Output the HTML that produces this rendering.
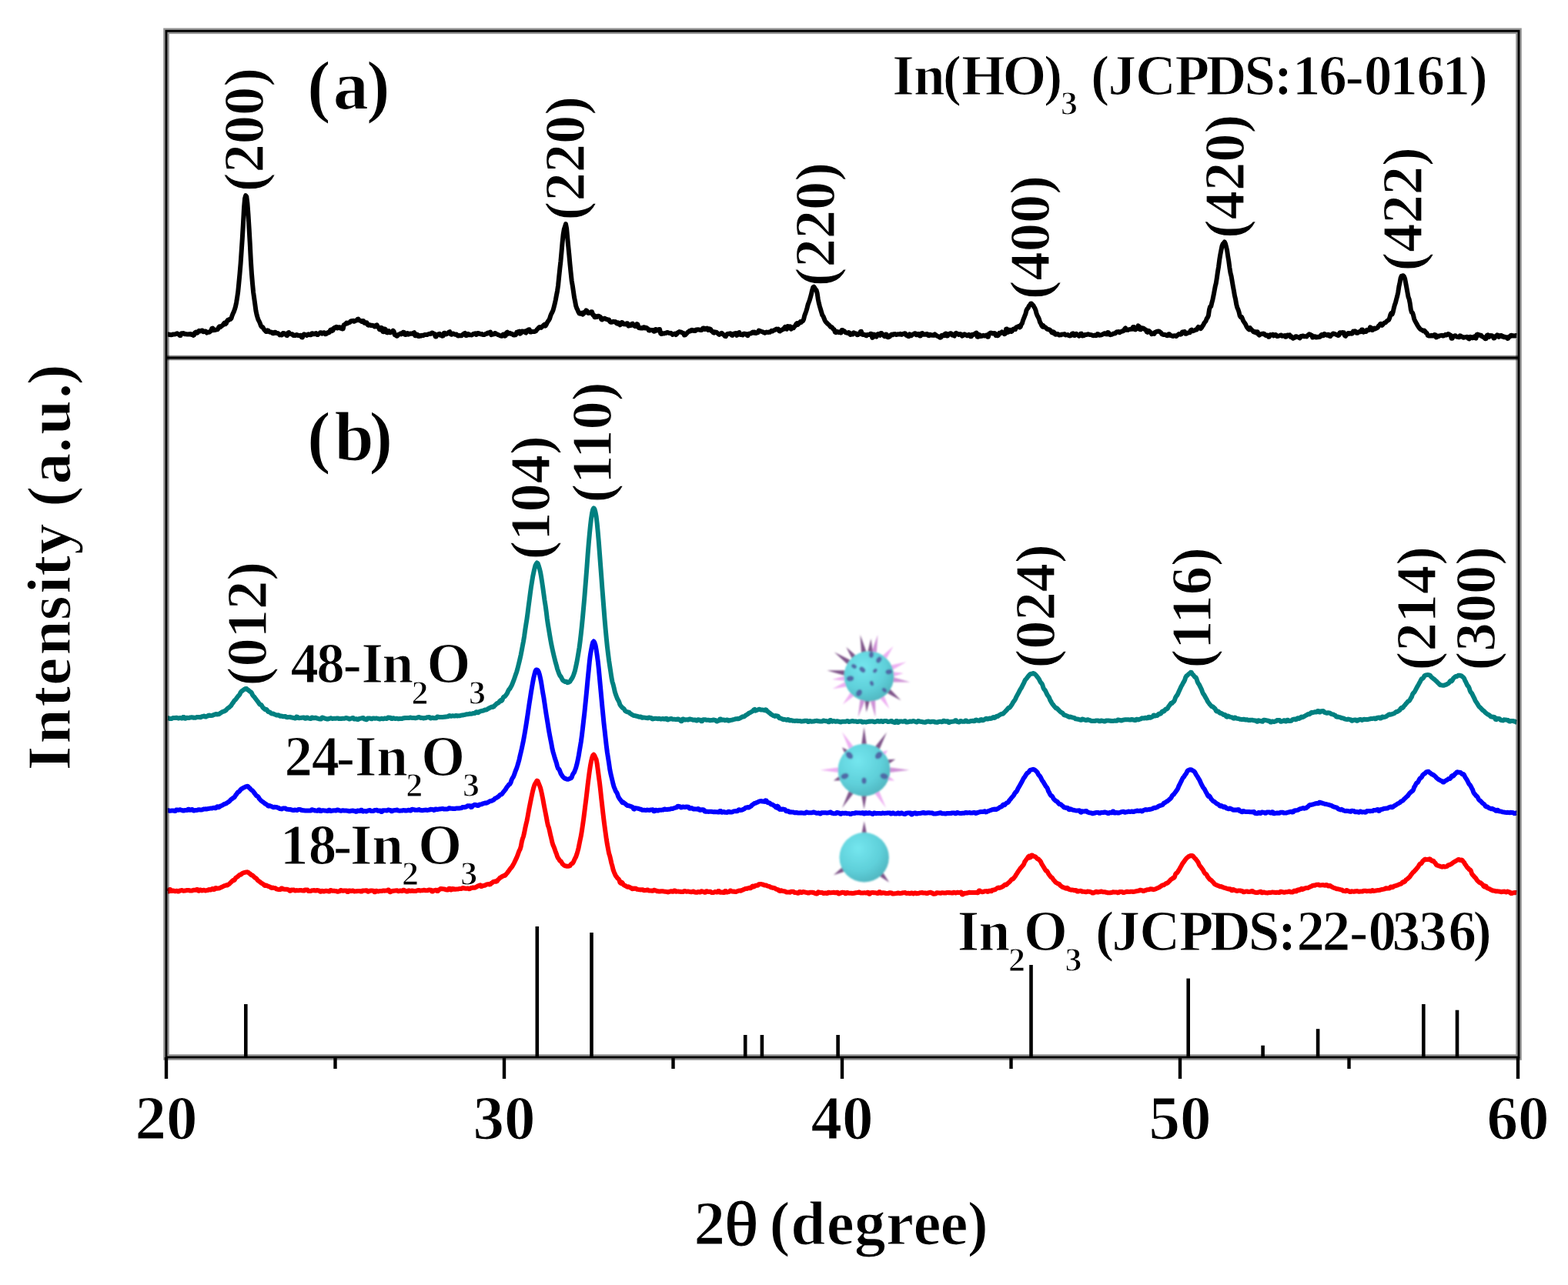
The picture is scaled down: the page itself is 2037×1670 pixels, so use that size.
<!DOCTYPE html><html><head><meta charset="utf-8"><title>XRD patterns</title><style>html,body{margin:0;padding:0;background:#fff;overflow:hidden}svg{display:block}text{font-family:"Liberation Serif","Times New Roman",serif;font-weight:bold;fill:#000;stroke:#fff;stroke-width:1.2px}</style></head><body><svg width="2037" height="1670" viewBox="0 0 2037 1670"><defs><filter id="bl" x="-20%" y="-20%" width="140%" height="140%"><feGaussianBlur stdDeviation="0.9"/></filter><radialGradient id="sg" cx="0.38" cy="0.32" r="0.75"><stop offset="0" stop-color="#74e6ee"/><stop offset="0.6" stop-color="#5fd0da"/><stop offset="1" stop-color="#4eb3bd"/></radialGradient></defs><rect width="2037" height="1670" fill="#fff"/><path d="M218 434.4L219.1 434.4L220.2 435L221.3 435L222.4 435.2L223.5 435.1L224.6 434.5L225.7 434.5L226.8 434.6L227.9 434.4L229 433.6L230.1 433.3L231.2 434.1L232.3 434.5L233.4 436L234.5 436.1L235.6 433.3L236.7 433.3L237.8 433.1L238.9 433.2L240 434.2L241.1 434L242.2 434.3L243.3 434.6L244.4 434.3L245.5 434.6L246.6 434.2L247.7 433.9L248.8 435L249.9 434.6L251 435.9L252.1 435.5L253.2 432.5L254.3 431.7L255.4 432.8L256.5 432.5L257.6 430.8L258.7 429.8L259.8 430.4L260.9 430.3L262 429.5L263.1 429.6L264.2 431.2L265.3 431.1L266.4 430.4L267.5 430.7L268.6 432.5L269.7 431.9L270.8 431.8L271.9 431.8L273 430.8L274.1 430L275.2 426.9L276.3 426.6L277.4 429.2L278.5 428.4L279.6 428.9L280.7 428.6L281.8 428.4L282.9 428.1L284 425.6L285.1 424.4L286.2 425.2L287.3 424.3L288.4 423.4L289.5 422.6L290.6 420.8L291.7 419.6L292.8 421.2L293.9 420.3L295 417.2L296.1 415.8L297.2 416L298.3 414.8L299.4 414.8L300.5 413.7L301.6 410.1L302.7 407.4L303.8 405.2L304.9 402.1L306 398.4L307.1 393.1L308.2 386.3L309.3 378.5L310.4 367.1L311.5 355.5L312.6 342.5L313.7 326.4L314.8 310L315.9 291.1L317 270.3L318.1 257.8L319.2 254.1L320.3 255.7L321.4 264.1L322.5 278.9L323.6 296.8L324.7 315.8L325.8 337.6L326.9 355L328 368.3L329.1 379.8L330.2 387.5L331.3 395.3L332.4 403.6L333.5 408.9L334.6 412.7L335.7 415.9L336.8 417.9L337.9 420.4L339 423.5L340.1 425L341.2 425.1L342.3 426.9L343.4 428.6L344.5 429.7L345.6 430.9L346.7 430.9L347.8 429.4L348.9 430L350 431.4L351.1 431.8L352.2 431.5L353.3 431.9L354.4 433.3L355.5 433.2L356.6 432L357.7 431.7L358.8 433L359.9 432.7L361 433.1L362.1 433.8L363.2 435.3L364.3 434.7L365.4 435.4L366.5 435.4L367.6 432.9L368.7 433.1L369.8 433.6L370.9 433.9L372 435.9L373.1 436.1L374.2 432.6L375.3 432.1L376.4 434L377.5 434L378.6 434.2L379.7 434.3L380.8 435.8L381.9 436.1L383 435.6L384.1 436L385.2 435.1L386.3 435.2L387.4 436L388.5 435.9L389.6 436L390.7 435.8L391.8 438.3L392.9 438.4L394 435.3L395.1 434.3L396.2 434.9L397.3 434.9L398.4 436L399.5 435.4L400.6 434.4L401.7 435.1L402.8 435.3L403.9 435.3L405 433.2L406.1 433.2L407.2 434.2L408.3 434.3L409.4 433.4L410.5 433.1L411.6 434.8L412.7 435.1L413.8 433.9L414.9 433.6L416 432.3L417.1 432.3L418.2 433.6L419.3 433.2L420.4 432.3L421.5 432.3L422.6 434.2L423.7 434.1L424.8 432.7L425.9 432L427 432.4L428.1 431.7L429.2 429L430.3 428.4L431.4 430.1L432.5 429.3L433.6 426.6L434.7 425.9L435.8 425.2L436.9 424.8L438 426.6L439.1 426.4L440.2 425.3L441.3 425.2L442.4 426.5L443.5 425.7L444.6 427.5L445.7 427.3L446.8 422.3L447.9 421.8L449 420.9L450.1 419.7L451.2 420.4L452.3 419.4L453.4 419.4L454.5 418.8L455.6 417.4L456.7 417.1L457.8 417.3L458.9 416.7L460 417.8L461.1 417.2L462.2 416.5L463.3 416.4L464.4 414.9L465.5 414.5L466.6 416.4L467.7 416.6L468.8 417.2L469.9 417.9L471 417L472.1 417L473.2 419.7L474.3 419.9L475.4 419.3L476.5 419.3L477.6 422.3L478.7 422.7L479.8 422.2L480.9 422.2L482 423L483.1 422.9L484.2 422.8L485.3 423.4L486.4 424.5L487.5 424.5L488.6 422.6L489.7 422.3L490.8 424.5L491.9 425.8L493 428.2L494.1 428.5L495.2 425.8L496.3 426.2L497.4 431L498.5 431.2L499.6 427.5L500.7 427.8L501.8 431.8L502.9 432.3L504 430.4L505.1 430L506.2 432.3L507.3 432.2L508.4 431.6L509.5 431.4L510.6 429.7L511.7 430.8L512.8 435.2L513.9 435.3L515 436.5L516.1 436.8L517.2 435L518.3 434.7L519.4 434L520.5 433.3L521.6 434.3L522.7 433.4L523.8 431.8L524.9 432L526 434.8L527.1 435L528.2 433.5L529.3 433L530.4 434.7L531.5 434.4L532.6 433.6L533.7 433.5L534.8 433.7L535.9 433.7L537 432.7L538.1 432.2L539.2 436.2L540.3 436.3L541.4 434.6L542.5 435.1L543.6 437.1L544.7 437L545.8 436.1L546.9 436.6L548 435.8L549.1 436L550.2 435.9L551.3 435.1L552.4 435.1L553.5 434.9L554.6 435.1L555.7 434.7L556.8 434.1L557.9 433.8L559 434L560.1 433.8L561.2 432.6L562.3 432.7L563.4 433.6L564.5 433.9L565.6 437.4L566.7 437.4L567.8 434.7L568.9 434.7L570 434.1L571.1 433.7L572.2 435.7L573.3 435.6L574.4 436.7L575.5 436.6L576.6 432.9L577.7 432.7L578.8 434.4L579.9 434.3L581 433.5L582.1 433.1L583.2 431.6L584.3 431.2L585.4 434.3L586.5 434.8L587.6 433.7L588.7 433.5L589.8 434.1L590.9 434.8L592 434.4L593.1 434.4L594.2 435.9L595.3 436.4L596.4 435.9L597.5 436.2L598.6 436.3L599.7 436.3L600.8 435L601.9 434.3L603 433.5L604.1 432.9L605.2 436L606.3 435.9L607.4 434.1L608.5 434L609.6 435.3L610.7 435.2L611.8 435.2L612.9 435.5L614 434.8L615.1 433.9L616.2 433.6L617.3 433.3L618.4 434.9L619.5 434.8L620.6 433L621.7 433.1L622.8 433.5L623.9 434.1L625 434.4L626.1 434.1L627.2 435L628.3 435L629.4 434.9L630.5 434.2L631.6 433.6L632.7 433.8L633.8 432.6L634.9 432.9L636 432.1L637.1 431.6L638.2 435.1L639.3 434.7L640.4 434.6L641.5 434.4L642.6 433.1L643.7 433.1L644.8 434.1L645.9 434.4L647 435L648.1 435.3L649.2 435.9L650.3 436.4L651.4 436.8L652.5 436.5L653.6 434.5L654.7 434.8L655.8 436.6L656.9 436.2L658 432.3L659.1 431.7L660.2 433.8L661.3 433.6L662.4 432.8L663.5 433.4L664.6 434.1L665.7 434.1L666.8 435.4L667.9 435.6L669 435.4L670.1 435.2L671.2 431.8L672.3 431.9L673.4 431.1L674.5 430.7L675.6 433.7L676.7 433.1L677.8 430.4L678.9 430.5L680 431.2L681.1 430.6L682.2 432.1L683.3 432.6L684.4 429.6L685.5 429.6L686.6 428.4L687.7 428.2L688.8 431.6L689.9 431.5L691 431L692.1 431.1L693.2 431.1L694.3 431.1L695.4 430.6L696.5 430L697.6 428.2L698.7 427.3L699.8 426L700.9 425L702 425.7L703.1 425.9L704.2 424.5L705.3 423.7L706.4 422.4L707.5 421.6L708.6 423.5L709.7 421.9L710.8 419.3L711.9 417.6L713 416.2L714.1 414.1L715.2 410.3L716.3 407.7L717.4 405.7L718.5 403.3L719.6 399.2L720.7 394.8L721.8 389.9L722.9 383.9L724 378.3L725.1 370.9L726.2 359.8L727.3 349.2L728.4 339.6L729.5 327.5L730.6 315L731.7 304.4L732.8 298L733.9 294.7L735 291.2L736.1 296.9L737.2 308.7L738.3 320.2L739.4 331.4L740.5 343.7L741.6 354.6L742.7 364.9L743.8 371.2L744.9 378.6L746 386.3L747.1 391.6L748.2 397.6L749.3 400.8L750.4 402.8L751.5 405.5L752.6 407.4L753.7 407.8L754.8 407.3L755.9 406.6L757 408.6L758.1 407.7L759.2 405.7L760.3 405.4L761.4 403.4L762.5 404.1L763.6 406.8L764.7 406.9L765.8 406.3L766.9 406.6L768 405.2L769.1 405.2L770.2 409.3L771.3 409.3L772.4 412.2L773.5 412.3L774.6 411.1L775.7 411.9L776.8 410.7L777.9 410.8L779 411.5L780.1 412L781.2 415L782.3 415.5L783.4 414.4L784.5 414L785.6 413.7L786.7 414.5L787.8 414.8L788.9 415.3L790 415.6L791.1 415.4L792.2 417.8L793.3 418.8L794.4 418.7L795.5 418.5L796.6 417.8L797.7 418.3L798.8 418.1L799.9 418.2L801 420.3L802.1 420.7L803.2 419.3L804.3 420.4L805.4 422.3L806.5 421.7L807.6 418.9L808.7 419.1L809.8 420.7L810.9 421.4L812 421.2L813.1 421.5L814.2 420.2L815.3 420.2L816.4 423.6L817.5 423.4L818.6 423.1L819.7 423L820.8 420.9L821.9 420.6L823 422.7L824.1 423.4L825.2 424.1L826.3 424.1L827.4 421L828.5 421.8L829.6 426.1L830.7 426.2L831.8 426.4L832.9 426L834 426.5L835.1 426.5L836.2 425.2L837.3 425.5L838.4 426.5L839.5 425.9L840.6 426.5L841.7 427.2L842.8 429.3L843.9 429.6L845 428.8L846.1 428.9L847.2 428.9L848.3 429L849.4 430.8L850.5 430.6L851.6 427.9L852.7 428.1L853.8 429.5L854.9 429.1L856 428.1L857.1 428.1L858.2 433.4L859.3 434L860.4 433.4L861.5 433.2L862.6 433.6L863.7 433.1L864.8 433.1L865.9 432.2L867 432.1L868.1 432.2L869.2 432.9L870.3 433.1L871.4 432.8L872.5 433.6L873.6 434.9L874.7 434.2L875.8 434L876.9 433.6L878 435.1L879.1 434.2L880.2 432.6L881.3 431.9L882.4 431.1L883.5 431.4L884.6 431.4L885.7 432.3L886.8 432.6L887.9 432.9L889 435.6L890.1 435.4L891.2 434.2L892.3 433.1L893.4 431.8L894.5 431.2L895.6 430.1L896.7 430.5L897.8 429.2L898.9 428.7L900 429.7L901.1 429.2L902.2 430.1L903.3 430.1L904.4 428.5L905.5 428.6L906.6 428.3L907.7 428.5L908.8 428.6L909.9 429L911 429.1L912.1 428.4L913.2 426.4L914.3 426.5L915.4 428L916.5 427.8L917.6 426.8L918.7 426.6L919.8 429L920.9 428.8L922 427.3L923.1 427.9L924.2 430L925.3 430.3L926.4 432L927.5 432.6L928.6 431.4L929.7 432L930.8 431.7L931.9 432.9L933 433.9L934.1 434.9L935.2 434.5L936.3 433.4L937.4 432.8L938.5 433.6L939.6 434.8L940.7 435.4L941.8 436.9L942.9 437.2L944 434.8L945.1 433.9L946.2 433.7L947.3 434L948.4 433.3L949.5 433.4L950.6 435.7L951.7 435.9L952.8 434.2L953.9 433.4L955 433.2L956.1 433.1L957.2 435.8L958.3 435.2L959.4 432.6L960.5 432.1L961.6 435L962.7 435.1L963.8 435.1L964.9 435.5L966 433.8L967.1 433.6L968.2 433.9L969.3 434L970.4 435.7L971.5 436.1L972.6 433.8L973.7 433.7L974.8 433.3L975.9 433.4L977 432L978.1 431.6L979.2 432.6L980.3 431.6L981.4 432.9L982.5 433L983.6 432.1L984.7 432.2L985.8 429.5L986.9 430.1L988 430.4L989.1 430.8L990.2 431.1L991.3 431.5L992.4 432.3L993.5 432.7L994.6 432.2L995.7 431.6L996.8 431.8L997.9 431.9L999 431.5L1000.1 431.7L1001.2 430.9L1002.3 429.8L1003.4 430.4L1004.5 429.7L1005.6 429.2L1006.7 428.7L1007.8 428L1008.9 427.5L1010 428.4L1011.1 427.7L1012.2 430.1L1013.3 430.5L1014.4 429.2L1015.5 429L1016.6 428.1L1017.7 428L1018.8 426.2L1019.9 424.9L1021 427.2L1022.1 427.7L1023.2 424.1L1024.3 424.2L1025.4 424.6L1026.5 424.3L1027.6 427.7L1028.7 426.9L1029.8 425.5L1030.9 426.1L1032 424.3L1033.1 423.6L1034.2 421.2L1035.3 420.1L1036.4 421.9L1037.5 420.8L1038.6 419.4L1039.7 418.1L1040.8 418.8L1041.9 417.4L1043 417.2L1044.1 414.9L1045.2 410.2L1046.3 407.4L1047.4 404.1L1048.5 400.3L1049.6 395.9L1050.7 393L1051.8 390L1052.9 386.2L1054 381.9L1055.1 377.3L1056.2 373.5L1057.3 372.7L1058.4 374.3L1059.5 376.1L1060.6 377.3L1061.7 381.4L1062.8 389L1063.9 394.3L1065 398.5L1066.1 402.2L1067.2 405.9L1068.3 409.6L1069.4 410.9L1070.5 413.6L1071.6 416.4L1072.7 418.4L1073.8 419.2L1074.9 420.5L1076 421.5L1077.1 422.4L1078.2 423.7L1079.3 425.1L1080.4 425L1081.5 426.2L1082.6 427.7L1083.7 428.2L1084.8 431.6L1085.9 432.2L1087 431.1L1088.1 431.1L1089.2 432L1090.3 431.6L1091.4 432.2L1092.5 432.5L1093.6 429L1094.7 429L1095.8 430.2L1096.9 430.2L1098 431.7L1099.1 432.4L1100.2 432.6L1101.3 433L1102.4 432L1103.5 432.5L1104.6 434.9L1105.7 434.8L1106.8 433.7L1107.9 434.4L1109 432.4L1110.1 432.8L1111.2 433.4L1112.3 433.4L1113.4 435.2L1114.5 435.1L1115.6 434.2L1116.7 434L1117.8 430.9L1118.9 430.7L1120 434.6L1121.1 435L1122.2 434.4L1123.3 434.9L1124.4 435.9L1125.5 436.3L1126.6 434.9L1127.7 434.9L1128.8 435.1L1129.9 435.1L1131 433.7L1132.1 434L1133.2 438.9L1134.3 438.2L1135.4 434.6L1136.5 435.2L1137.6 437.3L1138.7 437.6L1139.8 434.5L1140.9 434L1142 435.1L1143.1 435.8L1144.2 433.1L1145.3 433.1L1146.4 434.5L1147.5 434.8L1148.6 437L1149.7 437.2L1150.8 434.4L1151.9 434.6L1153 438L1154.1 438.3L1155.2 437.6L1156.3 437L1157.4 435.2L1158.5 434.6L1159.6 435.2L1160.7 434.2L1161.8 434.4L1162.9 434.1L1164 434.9L1165.1 434.9L1166.2 434.3L1167.3 434.5L1168.4 434.4L1169.5 433.8L1170.6 434.7L1171.7 434.9L1172.8 433.9L1173.9 433.9L1175 433.2L1176.1 433.5L1177.2 435.7L1178.3 435.3L1179.4 436.9L1180.5 437.2L1181.6 434.3L1182.7 434.7L1183.8 436.2L1184.9 435.4L1186 434.5L1187.1 434L1188.2 433.3L1189.3 433.2L1190.4 435.3L1191.5 435.2L1192.6 434.1L1193.7 434L1194.8 436.5L1195.9 436.5L1197 433.4L1198.1 433L1199.2 434.8L1200.3 434.7L1201.4 434.5L1202.5 434.8L1203.6 434L1204.7 434.1L1205.8 435.9L1206.9 436.3L1208 434.8L1209.1 435L1210.2 435.7L1211.3 435.7L1212.4 435.2L1213.5 435.8L1214.6 434.5L1215.7 435.4L1216.8 436.3L1217.9 436.8L1219 437.5L1220.1 437.4L1221.2 438.7L1222.3 438.6L1223.4 436L1224.5 435.7L1225.6 436.3L1226.7 436.2L1227.8 433.8L1228.9 433.5L1230 436.5L1231.1 436.6L1232.2 434.1L1233.3 434.1L1234.4 433.2L1235.5 433.3L1236.6 435.3L1237.7 434.6L1238.8 436.1L1239.9 436.6L1241 433.5L1242.1 432.8L1243.2 433.8L1244.3 433.7L1245.4 435L1246.5 434.5L1247.6 434.1L1248.7 434.5L1249.8 436.6L1250.9 436.2L1252 434.7L1253.1 434.2L1254.2 434.9L1255.3 435.5L1256.4 436.3L1257.5 436L1258.6 434.9L1259.7 435.3L1260.8 437.3L1261.9 437.3L1263 434.7L1264.1 434.9L1265.2 434.7L1266.3 433.9L1267.4 433.1L1268.5 432.6L1269.6 437.5L1270.7 437.8L1271.8 434.9L1272.9 435.5L1274 437.1L1275.1 436.9L1276.2 436.4L1277.3 435.8L1278.4 436.4L1279.5 436.4L1280.6 435.8L1281.7 435.5L1282.8 437.7L1283.9 437.7L1285 433.7L1286.1 433.1L1287.2 432.6L1288.3 432.8L1289.4 433.5L1290.5 433.6L1291.6 432.9L1292.7 433.1L1293.8 436.1L1294.9 436.1L1296 436.3L1297.1 435.7L1298.2 432.9L1299.3 433.5L1300.4 432.4L1301.5 431.4L1302.6 432.7L1303.7 432.1L1304.8 434.2L1305.9 433.8L1307 427.7L1308.1 427.5L1309.2 431.9L1310.3 431.5L1311.4 428.7L1312.5 428.7L1313.6 431L1314.7 430.7L1315.8 428.1L1316.9 427.6L1318 427.5L1319.1 428L1320.2 425.2L1321.3 424.8L1322.4 424.8L1323.5 423.9L1324.6 425.4L1325.7 424.7L1326.8 421.6L1327.9 420.2L1329 416.3L1330.1 413.7L1331.2 410.7L1332.3 408.1L1333.4 403.5L1334.5 401.4L1335.6 400.2L1336.7 397.7L1337.8 396.6L1338.9 394.6L1340 394.6L1341.1 395.8L1342.2 396.7L1343.3 398.7L1344.4 400.5L1345.5 403.3L1346.6 407.7L1347.7 410.4L1348.8 412.2L1349.9 414.7L1351 418.6L1352.1 420.4L1353.2 423L1354.3 424.5L1355.4 423.3L1356.5 425L1357.6 425.2L1358.7 425.8L1359.8 427.3L1360.9 428L1362 428L1363.1 428.4L1364.2 429.1L1365.3 430L1366.4 432.1L1367.5 432.7L1368.6 431.3L1369.7 432.2L1370.8 434.6L1371.9 434.8L1373 433.9L1374.1 434L1375.2 434.9L1376.3 435.6L1377.4 435.1L1378.5 435.2L1379.6 434.4L1380.7 434.6L1381.8 434.4L1382.9 434.1L1384 435.4L1385.1 435.3L1386.2 435.2L1387.3 435.1L1388.4 436.1L1389.5 436.4L1390.6 436.3L1391.7 435.5L1392.8 433.6L1393.9 433.3L1395 435.8L1396.1 436L1397.2 433.9L1398.3 433.8L1399.4 435.2L1400.5 435.6L1401.6 436.7L1402.7 435.9L1403.8 433.8L1404.9 433.6L1406 436.4L1407.1 436.3L1408.2 436.1L1409.3 434.9L1410.4 434.9L1411.5 434.9L1412.6 434.4L1413.7 434.3L1414.8 434.8L1415.9 434.9L1417 435.1L1418.1 435.3L1419.2 435.9L1420.3 436.2L1421.4 436.1L1422.5 435.6L1423.6 436.3L1424.7 435.9L1425.8 434.1L1426.9 434.3L1428 435.7L1429.1 435.6L1430.2 435.5L1431.3 435.1L1432.4 434.5L1433.5 434L1434.6 433.3L1435.7 433.2L1436.8 434.2L1437.9 434.4L1439 432.1L1440.1 432.2L1441.2 434.6L1442.3 435.2L1443.4 434.8L1444.5 434.7L1445.6 434L1446.7 433.5L1447.8 433.6L1448.9 433.4L1450 431.8L1451.1 431.2L1452.2 431.6L1453.3 431L1454.4 432.2L1455.5 431.5L1456.6 430.9L1457.7 430.3L1458.8 430.4L1459.9 429.7L1461 427.5L1462.1 426.4L1463.2 428.9L1464.3 428.7L1465.4 428.9L1466.5 428.2L1467.6 428.1L1468.7 427.9L1469.8 427.4L1470.9 427.7L1472 424.9L1473.1 425L1474.2 428.2L1475.3 428.4L1476.4 427.1L1477.5 427L1478.6 423.4L1479.7 424.2L1480.8 428.1L1481.9 428.3L1483 426.1L1484.1 426.5L1485.2 426.6L1486.3 427.2L1487.4 428.2L1488.5 428.4L1489.6 431.3L1490.7 431.8L1491.8 429.8L1492.9 430.3L1494 431.6L1495.1 432.2L1496.2 434.2L1497.3 433.8L1498.4 433.3L1499.5 433.8L1500.6 431.7L1501.7 431.5L1502.8 430.8L1503.9 430.8L1505 430.4L1506.1 430.6L1507.2 431.6L1508.3 432.4L1509.4 434.2L1510.5 434.6L1511.6 435.1L1512.7 434.7L1513.8 435.2L1514.9 435.5L1516 436.2L1517.1 436L1518.2 434.2L1519.3 434.3L1520.4 436L1521.5 436L1522.6 436.6L1523.7 436.9L1524.8 436.4L1525.9 436.2L1527 436.7L1528.1 437L1529.2 435.7L1530.3 435.2L1531.4 434.1L1532.5 434.4L1533.6 434.7L1534.7 434.3L1535.8 431.6L1536.9 431.6L1538 431.2L1539.1 431L1540.2 433.8L1541.3 433.8L1542.4 432.9L1543.5 432.4L1544.6 432.3L1545.7 432.2L1546.8 429.2L1547.9 428.7L1549 430.3L1550.1 430L1551.2 429.7L1552.3 429.1L1553.4 428.5L1554.5 428.6L1555.6 426.4L1556.7 424.9L1557.8 426.3L1558.9 425.7L1560 427L1561.1 425.6L1562.2 423.8L1563.3 422.2L1564.4 419.9L1565.5 418.5L1566.6 417.1L1567.7 414L1568.8 412.7L1569.9 410L1571 402.4L1572.1 398.6L1573.2 398.2L1574.3 393.6L1575.4 389.4L1576.5 384.2L1577.6 378.3L1578.7 372.3L1579.8 367.9L1580.9 360.9L1582 353L1583.1 346.4L1584.2 337.8L1585.3 331L1586.4 325.4L1587.5 319.9L1588.6 317L1589.7 315.9L1590.8 314.4L1591.9 316.6L1593 320.8L1594.1 325.4L1595.2 332.9L1596.3 339.5L1597.4 347.9L1598.5 354.7L1599.6 358.9L1600.7 365.4L1601.8 372L1602.9 377.9L1604 384.4L1605.1 389L1606.2 395.5L1607.3 399.8L1608.4 402.1L1609.5 405.4L1610.6 410.2L1611.7 412.1L1612.8 411.7L1613.9 413.9L1615 416.8L1616.1 418.4L1617.2 419.9L1618.3 421.8L1619.4 424.4L1620.5 425.9L1621.6 427.4L1622.7 428.4L1623.8 426L1624.9 427.4L1626 428.8L1627.1 429.5L1628.2 431.1L1629.3 431.7L1630.4 431.1L1631.5 432.4L1632.6 431.2L1633.7 431.2L1634.8 434.6L1635.9 435.6L1637 434.7L1638.1 434.2L1639.2 433.8L1640.3 434.1L1641.4 433.5L1642.5 433.9L1643.6 435.4L1644.7 435.9L1645.8 435.5L1646.9 435.7L1648 437.8L1649.1 437.5L1650.2 435.1L1651.3 435.2L1652.4 435.2L1653.5 434.6L1654.6 436.4L1655.7 435.8L1656.8 434.9L1657.9 435.3L1659 437L1660.1 436.9L1661.2 436.6L1662.3 436.4L1663.4 435.6L1664.5 435.4L1665.6 436.7L1666.7 436.6L1667.8 436.4L1668.9 436.1L1670 437.8L1671.1 437.6L1672.2 435.5L1673.3 435.6L1674.4 436.2L1675.5 435.4L1676.6 437.9L1677.7 437.3L1678.8 438.9L1679.9 439.7L1681 439L1682.1 438.8L1683.2 437.2L1684.3 437.3L1685.4 438.1L1686.5 438.2L1687.6 438.8L1688.7 439.4L1689.8 437.1L1690.9 437.2L1692 436.4L1693.1 436.4L1694.2 437.2L1695.3 437.3L1696.4 437.1L1697.5 437.4L1698.6 436L1699.7 435.3L1700.8 434.2L1701.9 434.7L1703 435.3L1704.1 435.6L1705.2 438.6L1706.3 438.4L1707.4 437.3L1708.5 437.3L1709.6 438.4L1710.7 437.7L1711.8 438.3L1712.9 437.8L1714 438.1L1715.1 437.5L1716.2 435.6L1717.3 434.9L1718.4 436.3L1719.5 436L1720.6 433.9L1721.7 434.4L1722.8 435.3L1723.9 435.7L1725 434.8L1726.1 434.7L1727.2 436.8L1728.3 437L1729.4 435.1L1730.5 434.9L1731.6 433.6L1732.7 433.6L1733.8 434L1734.9 434.3L1736 435L1737.1 435.1L1738.2 436.1L1739.3 435.9L1740.4 432.5L1741.5 432.2L1742.6 432.9L1743.7 432L1744.8 432.5L1745.9 432.2L1747 436.2L1748.1 436.8L1749.2 435L1750.3 434.5L1751.4 432.9L1752.5 433L1753.6 433.7L1754.7 433.1L1755.8 433.8L1756.9 433.4L1758 430.5L1759.1 431.3L1760.2 430.3L1761.3 430.7L1762.4 432.8L1763.5 432.7L1764.6 431.9L1765.7 431.4L1766.8 430.5L1767.9 431.1L1769 428.5L1770.1 428.4L1771.2 431.6L1772.3 431.2L1773.4 430.9L1774.5 431.1L1775.6 428.9L1776.7 429.3L1777.8 429.3L1778.9 428.4L1780 425.4L1781.1 425.8L1782.2 428.9L1783.3 428.9L1784.4 427.1L1785.5 426.6L1786.6 427.5L1787.7 426.6L1788.8 426.3L1789.9 425.5L1791 423.5L1792.1 423L1793.2 420.9L1794.3 420.7L1795.4 422.8L1796.5 421.7L1797.6 420.5L1798.7 419.4L1799.8 419.3L1800.9 418.2L1802 417L1803.1 416.5L1804.2 415.6L1805.3 413L1806.4 408.7L1807.5 406.9L1808.6 408.5L1809.7 405.4L1810.8 400.4L1811.9 396.3L1813 393.2L1814.1 388.8L1815.2 384.9L1816.3 379.8L1817.4 372.4L1818.5 367.4L1819.6 361.3L1820.7 358.7L1821.8 358.5L1822.9 358.2L1824 359.5L1825.1 362.1L1826.2 367.8L1827.3 373.6L1828.4 379.8L1829.5 385.8L1830.6 388.7L1831.7 394.2L1832.8 402.2L1833.9 405.8L1835 406.5L1836.1 409.8L1837.2 414.6L1838.3 417.1L1839.4 419L1840.5 420.9L1841.6 423L1842.7 424.8L1843.8 426.3L1844.9 427.6L1846 428.3L1847.1 428.9L1848.2 429.5L1849.3 430.2L1850.4 429.6L1851.5 430.6L1852.6 432.7L1853.7 433L1854.8 435.8L1855.9 436.4L1857 436.5L1858.1 436.4L1859.2 435.7L1860.3 436.5L1861.4 435.7L1862.5 436.4L1863.6 435.1L1864.7 435.2L1865.8 438.4L1866.9 438.1L1868 436.6L1869.1 437L1870.2 436.4L1871.3 436.1L1872.4 435.9L1873.5 435.8L1874.6 436.6L1875.7 436.3L1876.8 435.6L1877.9 434.9L1879 435.5L1880.1 435.2L1881.2 434L1882.3 434.3L1883.4 435.3L1884.5 435.4L1885.6 439.8L1886.7 439.7L1887.8 437.2L1888.9 437L1890 436.2L1891.1 436.5L1892.2 437.6L1893.3 437.9L1894.4 438.1L1895.5 438.3L1896.6 436.2L1897.7 436.6L1898.8 437.6L1899.9 437.7L1901 438.7L1902.1 438.5L1903.2 438.2L1904.3 438.2L1905.4 437.8L1906.5 438L1907.6 440L1908.7 440.4L1909.8 437.7L1910.9 437.9L1912 439L1913.1 439.3L1914.2 438.1L1915.3 437.4L1916.4 439.4L1917.5 439.6L1918.6 434.7L1919.7 434.6L1920.8 435.7L1921.9 435.3L1923 435.8L1924.1 435.8L1925.2 437.4L1926.3 437.6L1927.4 438.4L1928.5 439L1929.6 440.3L1930.7 440.1L1931.8 435.8L1932.9 435.4L1934 437.9L1935.1 437.4L1936.2 436L1937.3 436.4L1938.4 436.2L1939.5 437.4L1940.6 439.5L1941.7 439.3L1942.8 437L1943.9 436.5L1945 435.3L1946.1 435.6L1947.2 437.8L1948.3 437L1949.4 436L1950.5 436L1951.6 437.5L1952.7 437L1953.8 438.1L1954.9 437.7L1956 438.3L1957.1 438.3L1958.2 439.9L1959.3 439.8L1960.4 437.5L1961.5 437.6L1962.6 436L1963.7 435.8L1964.8 436.6L1965.9 436.3L1967 436.4L1968.1 436.5L1969.2 435.9L1970.3 436" fill="none" stroke="#000" stroke-width="6" stroke-linejoin="round"/><path d="M218 933.3L219.1 933.3L220.2 934L221.3 934L222.4 933.9L223.5 933.9L224.6 932.9L225.7 932.9L226.8 933L227.9 933L229 932.8L230.1 932.8L231.2 933.4L232.3 933.4L233.4 933L234.5 933L235.6 933.4L236.7 933.4L237.8 931.9L238.9 931.9L240 933.7L241.1 933.7L242.2 932.7L243.3 932.7L244.4 933.1L245.5 933L246.6 932.5L247.7 932.5L248.8 932.3L249.9 932.3L251 932.7L252.1 932.6L253.2 932.8L254.3 932.7L255.4 932.1L256.5 932L257.6 932L258.7 931.9L259.8 932.3L260.9 932.2L262 931.3L263.1 931.2L264.2 930.7L265.3 930.6L266.4 931.6L267.5 931.5L268.6 930.7L269.7 930.6L270.8 929.8L271.9 929.6L273 930.1L274.1 929.9L275.2 929.9L276.3 929.7L277.4 929L278.5 928.8L279.6 928.3L280.7 928L281.8 928.5L282.9 928.2L284 928.3L285.1 927.8L286.2 926.8L287.3 926.3L288.4 925.4L289.5 924.8L290.6 924.8L291.7 924.1L292.8 923.5L293.9 922.7L295 921.2L296.1 920.3L297.2 919.7L298.3 918.7L299.4 917.8L300.5 916.6L301.6 914.6L302.7 913.3L303.8 911.6L304.9 910.1L306 909.3L307.1 907.8L308.2 906.2L309.3 904.7L310.4 903.7L311.5 902.3L312.6 899.7L313.7 898.5L314.8 897.7L315.9 896.9L317 896.1L318.1 895.6L319.2 894.9L320.3 895L321.4 896.3L322.5 896.8L323.6 897.8L324.7 898.8L325.8 899.2L326.9 900.5L328 903L329.1 904.5L330.2 905.6L331.3 907.1L332.4 908.5L333.5 910L334.6 911.4L335.7 912.8L336.8 914.5L337.9 915.8L339 915.8L340.1 917L341.2 919.2L342.3 920.2L343.4 921.2L344.5 922.1L345.6 921.7L346.7 922.5L347.8 924.4L348.9 925.1L350 925.4L351.1 926L352.2 927.1L353.3 927.6L354.4 927.4L355.5 927.8L356.6 928.4L357.7 928.8L358.8 929.3L359.9 929.6L361 929.2L362.1 929.4L363.2 930.5L364.3 930.7L365.4 930.5L366.5 930.7L367.6 931.2L368.7 931.3L369.8 930.9L370.9 931L372 932.1L373.1 932.2L374.2 932L375.3 932.1L376.4 931.8L377.5 931.9L378.6 932.4L379.7 932.5L380.8 932.9L381.9 933L383 933.4L384.1 933.4L385.2 931.6L386.3 931.7L387.4 933.1L388.5 933.2L389.6 933L390.7 933L391.8 932.8L392.9 932.8L394 932.4L395.1 932.4L396.2 933.7L397.3 933.7L398.4 932.4L399.5 932.4L400.6 933.5L401.7 933.5L402.8 933.9L403.9 934L405 932.4L406.1 932.4L407.2 933.2L408.3 933.2L409.4 932.7L410.5 932.7L411.6 933.6L412.7 933.6L413.8 934.3L414.9 934.3L416 934.6L417.1 934.6L418.2 932.6L419.3 932.6L420.4 933.3L421.5 933.3L422.6 934L423.7 934L424.8 934.5L425.9 934.5L427 933.9L428.1 933.9L429.2 933.3L430.3 933.3L431.4 933.9L432.5 933.9L433.6 933.7L434.7 933.7L435.8 933.7L436.9 933.7L438 933.4L439.1 933.4L440.2 934L441.3 934L442.4 934L443.5 934L444.6 933.8L445.7 933.8L446.8 933.7L447.9 933.7L449 933.1L450.1 933.1L451.2 933.6L452.3 933.6L453.4 934.5L454.5 934.5L455.6 933.8L456.7 933.8L457.8 933.1L458.9 933.1L460 934.6L461.1 934.6L462.2 934.2L463.3 934.2L464.4 935L465.5 935L466.6 933.9L467.7 933.9L468.8 933.6L469.9 933.6L471 933.1L472.1 933.1L473.2 934.6L474.3 934.6L475.4 935.3L476.5 935.3L477.6 933.4L478.7 933.4L479.8 933.5L480.9 933.5L482 934.2L483.1 934.2L484.2 933.4L485.3 933.4L486.4 933.7L487.5 933.7L488.6 933.6L489.7 933.6L490.8 933.9L491.9 933.9L493 934.4L494.1 934.4L495.2 933.8L496.3 933.8L497.4 934.2L498.5 934.2L499.6 933.5L500.7 933.5L501.8 933.9L502.9 933.9L504 932.5L505.1 932.5L506.2 932.9L507.3 932.8L508.4 934.1L509.5 934.1L510.6 933.3L511.7 933.3L512.8 933.9L513.9 933.9L515 933.8L516.1 933.8L517.2 934.2L518.3 934.2L519.4 933.9L520.5 933.9L521.6 934L522.7 934L523.8 933.3L524.9 933.3L526 933L527.1 933L528.2 932.9L529.3 932.9L530.4 933L531.5 933L532.6 932.6L533.7 932.6L534.8 932.9L535.9 932.9L537 933.1L538.1 933.1L539.2 933.2L540.3 933.2L541.4 932.8L542.5 932.8L543.6 931.9L544.7 931.9L545.8 932.9L546.9 932.8L548 933L549.1 932.9L550.2 933.4L551.3 933.3L552.4 933L553.5 933L554.6 932.3L555.7 932.2L556.8 932.1L557.9 932.1L559 933.5L560.1 933.5L561.2 932.8L562.3 932.7L563.4 933.2L564.5 933.2L565.6 933.3L566.7 933.3L567.8 931.6L568.9 931.5L570 932.1L571.1 932.1L572.2 932L573.3 932L574.4 932L575.5 931.9L576.6 931.8L577.7 931.7L578.8 931.5L579.9 931.4L581 931.3L582.1 931.2L583.2 930.2L584.3 930.1L585.4 930.8L586.5 930.7L587.6 930.3L588.7 930.2L589.8 930.6L590.9 930.5L592 930L593.1 929.9L594.2 930.4L595.3 930.3L596.4 930.3L597.5 930.2L598.6 929.8L599.7 929.6L600.8 929.5L601.9 929.3L603 929.1L604.1 928.9L605.2 928.5L606.3 928.3L607.4 928.3L608.5 928.1L609.6 927.7L610.7 927.6L611.8 927.8L612.9 927.6L614 927.2L615.1 927L616.2 927.1L617.3 926.8L618.4 925.5L619.5 925.3L620.6 926.2L621.7 926L622.8 924.8L623.9 924.5L625 924.2L626.1 923.8L627.2 923.8L628.3 923.4L629.4 922.8L630.5 922.4L631.6 922.5L632.7 922.1L633.8 921.1L634.9 920.7L636 919.9L637.1 919.4L638.2 918.9L639.3 918.4L640.4 918.9L641.5 918.3L642.6 916.9L643.7 916.2L644.8 914.8L645.9 914L647 913.8L648.1 912.9L649.2 911.1L650.3 910.1L651.4 910.9L652.5 909.8L653.6 906.8L654.7 905.5L655.8 905.3L656.9 903.8L658 902.4L659.1 900.7L660.2 897.9L661.3 896L662.4 895L663.5 892.9L664.6 891L665.7 888.5L666.8 885.6L667.9 882.7L669 879.6L670.1 876.3L671.2 873.2L672.3 869.4L673.4 864.9L674.5 860.5L675.6 855.8L676.7 850.8L677.8 845.1L678.9 839.3L680 833.5L681.1 826.9L682.2 819L683.3 811.7L684.4 804.9L685.5 797L686.6 788.1L687.7 779.8L688.8 771.3L689.9 763.4L691 756.6L692.1 749.7L693.2 744.3L694.3 739.4L695.4 735.2L696.5 733L697.6 731.4L698.7 732.3L699.8 735.3L700.9 739L702 743.4L703.1 749.5L704.2 756.6L705.3 764.1L706.4 772.1L707.5 780.2L708.6 787L709.7 795L710.8 804.2L711.9 811.7L713 818.2L714.1 825L715.2 831.5L716.3 837.5L717.4 842.6L718.5 847.7L719.6 852.4L720.7 856.8L721.8 861.2L722.9 864.8L724 869.2L725.1 872.2L726.2 875.4L727.3 877.9L728.4 879.1L729.5 881L730.6 883.3L731.7 884.7L732.8 885.1L733.9 886L735 885.7L736.1 886L737.2 887.2L738.3 886.9L739.4 886.5L740.5 885.6L741.6 883.8L742.7 882.2L743.8 880.4L744.9 877.8L746 874.8L747.1 871.1L748.2 866L749.3 861L750.4 854.8L751.5 848.2L752.6 841.5L753.7 833.1L754.8 823.7L755.9 813.4L757 802.1L758.1 789.9L759.2 777.7L760.3 764L761.4 750.3L762.5 735.9L763.6 720.6L764.7 706.9L765.8 694.8L766.9 683.5L768 674.1L769.1 666.9L770.2 662.2L771.3 660.3L772.4 661.6L773.5 665.5L774.6 671.4L775.7 680.5L776.8 692.2L777.9 705L779 719.6L780.1 734.3L781.2 748.6L782.3 763.6L783.4 777.4L784.5 791.5L785.6 805.5L786.7 817.9L787.8 829.8L788.9 840.5L790 849.6L791.1 858.4L792.2 865.8L793.3 872.9L794.4 880.4L795.5 886.1L796.6 889.6L797.7 894.1L798.8 899.1L799.9 902.6L801 905.5L802.1 908.3L803.2 910.2L804.3 912.4L805.4 915.7L806.5 917.5L807.6 918.6L808.7 920L809.8 920.5L810.9 921.6L812 923.6L813.1 924.5L814.2 924.8L815.3 925.5L816.4 925.4L817.5 926L818.6 927.3L819.7 927.8L820.8 928.8L821.9 929.2L823 929.8L824.1 930.1L825.2 930.2L826.3 930.5L827.4 930.7L828.5 931L829.6 931.5L830.7 931.7L831.8 931.5L832.9 931.7L834 932.7L835.1 932.8L836.2 932.4L837.3 932.6L838.4 932.8L839.5 932.9L840.6 933.2L841.7 933.3L842.8 932.5L843.9 932.6L845 932.9L846.1 933L847.2 934.3L848.3 934.4L849.4 933.8L850.5 933.9L851.6 933.7L852.7 933.7L853.8 934.1L854.9 934.2L856 933.8L857.1 933.9L858.2 934.4L859.3 934.4L860.4 934L861.5 934L862.6 934.6L863.7 934.6L864.8 933.7L865.9 933.7L867 935.3L868.1 935.4L869.2 934.4L870.3 934.5L871.4 933.9L872.5 934L873.6 934.7L874.7 934.8L875.8 934.7L876.9 934.8L878 935.1L879.1 935.1L880.2 934.4L881.3 934.5L882.4 935.3L883.5 935.4L884.6 937.2L885.7 937.2L886.8 934.5L887.9 934.6L889 935.5L890.1 935.5L891.2 935.2L892.3 935.2L893.4 935.5L894.5 935.5L895.6 934.4L896.7 934.5L897.8 934.9L898.9 934.9L900 935.8L901.1 935.8L902.2 935.5L903.3 935.6L904.4 936.5L905.5 936.5L906.6 935.3L907.7 935.3L908.8 935.8L909.9 935.8L911 937.3L912.1 937.3L913.2 935.3L914.3 935.3L915.4 935.3L916.5 935.3L917.6 935.8L918.7 935.8L919.8 935.8L920.9 935.8L922 936.3L923.1 936.3L924.2 935.9L925.3 936L926.4 935.5L927.5 935.5L928.6 936L929.7 936L930.8 937.4L931.9 937.4L933 936.6L934.1 936.6L935.2 934.4L936.3 934.4L937.4 935.8L938.5 935.8L939.6 935.4L940.7 935.4L941.8 936.2L942.9 936.1L944 935.6L945.1 935.6L946.2 936.7L947.3 936.6L948.4 936L949.5 935.9L950.6 935.7L951.7 935.6L952.8 935.1L953.9 934.9L955 934.5L956.1 934.3L957.2 934.3L958.3 934L959.4 934.2L960.5 933.9L961.6 933.1L962.7 932.7L963.8 931.7L964.9 931.3L966 931.6L967.1 931.1L968.2 930L969.3 929.4L970.4 928.6L971.5 928L972.6 927L973.7 926.4L974.8 925.9L975.9 925.3L977 924.7L978.1 924.1L979.2 922.4L980.3 921.9L981.4 923.6L982.5 923.2L983.6 922.7L984.7 922.4L985.8 921.8L986.9 921.8L988 922.5L989.1 922.5L990.2 922.4L991.3 922.6L992.4 922.9L993.5 923.3L994.6 922.2L995.7 922.7L996.8 924.5L997.9 925L999 926.1L1000.1 926.7L1001.2 927.9L1002.3 928.6L1003.4 929.3L1004.5 930L1005.6 930.3L1006.7 930.9L1007.8 930.1L1008.9 930.7L1010 930.6L1011.1 931.1L1012.2 933.1L1013.3 933.5L1014.4 933.6L1015.5 934L1016.6 934.8L1017.7 935.2L1018.8 934.8L1019.9 935.1L1021 935.5L1022.1 935.7L1023.2 934.9L1024.3 935.1L1025.4 936.3L1026.5 936.4L1027.6 936.1L1028.7 936.2L1029.8 936.7L1030.9 936.7L1032 936.9L1033.1 936.9L1034.2 936.7L1035.3 936.7L1036.4 937L1037.5 937L1038.6 936.9L1039.7 936.9L1040.8 937.4L1041.9 937.4L1043 937.3L1044.1 937.3L1045.2 936.7L1046.3 936.7L1047.4 936.7L1048.5 936.8L1049.6 938.1L1050.7 938.1L1051.8 937.1L1052.9 937.1L1054 937.7L1055.1 937.7L1056.2 937.4L1057.3 937.4L1058.4 936.9L1059.5 936.9L1060.6 936.8L1061.7 936.8L1062.8 937.3L1063.9 937.3L1065 937.4L1066.1 937.4L1067.2 937.6L1068.3 937.6L1069.4 936.6L1070.5 936.6L1071.6 937L1072.7 937L1073.8 937.3L1074.9 937.3L1076 938.2L1077.1 938.3L1078.2 936.1L1079.3 936.1L1080.4 937.6L1081.5 937.7L1082.6 937.1L1083.7 937.1L1084.8 937.7L1085.9 937.7L1087 937.2L1088.1 937.2L1089.2 937.7L1090.3 937.7L1091.4 938.3L1092.5 938.4L1093.6 937.7L1094.7 937.7L1095.8 937.8L1096.9 937.8L1098 937.7L1099.1 937.7L1100.2 937.1L1101.3 937.1L1102.4 937.9L1103.5 937.9L1104.6 937.5L1105.7 937.5L1106.8 937.1L1107.9 937.1L1109 937.6L1110.1 937.6L1111.2 937.5L1112.3 937.5L1113.4 938L1114.5 938L1115.6 937.6L1116.7 937.6L1117.8 937.4L1118.9 937.4L1120 938.5L1121.1 938.5L1122.2 938.2L1123.3 938.2L1124.4 938.4L1125.5 938.4L1126.6 938L1127.7 938L1128.8 937.6L1129.9 937.7L1131 937.5L1132.1 937.5L1133.2 937.6L1134.3 937.6L1135.4 938.3L1136.5 938.3L1137.6 937.8L1138.7 937.8L1139.8 936.9L1140.9 936.9L1142 937.7L1143.1 937.8L1144.2 937L1145.3 937L1146.4 937.9L1147.5 937.9L1148.6 937.1L1149.7 937.1L1150.8 937.1L1151.9 937.1L1153 937.9L1154.1 937.9L1155.2 937.8L1156.3 937.8L1157.4 936.9L1158.5 936.9L1159.6 938.2L1160.7 938.3L1161.8 939L1162.9 939L1164 937L1165.1 937L1166.2 938.9L1167.3 938.9L1168.4 937.5L1169.5 937.5L1170.6 937.6L1171.7 937.6L1172.8 937.8L1173.9 937.8L1175 937.1L1176.1 937.1L1177.2 938.6L1178.3 938.6L1179.4 938.2L1180.5 938.2L1181.6 937.5L1182.7 937.5L1183.8 937.8L1184.9 937.8L1186 937.1L1187.1 937.1L1188.2 937.7L1189.3 937.7L1190.4 938.4L1191.5 938.4L1192.6 937L1193.7 937L1194.8 937.7L1195.9 937.7L1197 938L1198.1 938L1199.2 938.5L1200.3 938.5L1201.4 938.7L1202.5 938.7L1203.6 937.7L1204.7 937.7L1205.8 937.5L1206.9 937.5L1208 938.2L1209.1 938.2L1210.2 937.7L1211.3 937.7L1212.4 937.7L1213.5 937.7L1214.6 938.5L1215.7 938.5L1216.8 938.8L1217.9 938.8L1219 938L1220.1 938L1221.2 937.7L1222.3 937.7L1223.4 938.2L1224.5 938.1L1225.6 936.8L1226.7 936.8L1227.8 937.8L1228.9 937.8L1230 937.2L1231.1 937.2L1232.2 939.1L1233.3 939.1L1234.4 938.1L1235.5 938.1L1236.6 937.8L1237.7 937.8L1238.8 937.6L1239.9 937.5L1241 936.2L1242.1 936.2L1243.2 938L1244.3 938L1245.4 938.4L1246.5 938.4L1247.6 937.1L1248.7 937.1L1249.8 937.8L1250.9 937.8L1252 937.8L1253.1 937.7L1254.2 936.4L1255.3 936.4L1256.4 937.7L1257.5 937.7L1258.6 937.8L1259.7 937.8L1260.8 937.1L1261.9 937.1L1263 936.8L1264.1 936.8L1265.2 937.2L1266.3 937.1L1267.4 935.7L1268.5 935.6L1269.6 936.4L1270.7 936.3L1271.8 936.8L1272.9 936.6L1274 935.3L1275.1 935.1L1276.2 936.2L1277.3 936.1L1278.4 935.2L1279.5 935L1280.6 933.9L1281.7 933.7L1282.8 934.6L1283.9 934.4L1285 933.7L1286.1 933.4L1287.2 933.9L1288.3 933.6L1289.4 932.5L1290.5 932.1L1291.6 933L1292.7 932.6L1293.8 931.2L1294.9 930.8L1296 930.9L1297.1 930.4L1298.2 929.4L1299.3 928.8L1300.4 928.3L1301.5 927.7L1302.6 927.8L1303.7 927L1304.8 925.7L1305.9 924.8L1307 923.5L1308.1 922.5L1309.2 920.9L1310.3 919.8L1311.4 919.9L1312.5 918.6L1313.6 917L1314.7 915.5L1315.8 913.3L1316.9 911.7L1318 910.3L1319.1 908.5L1320.2 905.9L1321.3 903.9L1322.4 901.9L1323.5 899.8L1324.6 897.7L1325.7 895.6L1326.8 894L1327.9 891.9L1329 889.7L1330.1 887.6L1331.2 885L1332.3 883.1L1333.4 882.1L1334.5 880.5L1335.6 879.1L1336.7 877.9L1337.8 876.5L1338.9 875.8L1340 875.8L1341.1 875.6L1342.2 875L1343.3 875.3L1344.4 876.1L1345.5 877L1346.6 878.4L1347.7 879.8L1348.8 881.1L1349.9 882.8L1351 885.1L1352.1 887.1L1353.2 888L1354.3 890.2L1355.4 893.8L1356.5 896L1357.6 896.9L1358.7 899.1L1359.8 901.5L1360.9 903.6L1362 904.9L1363.1 906.8L1364.2 909.8L1365.3 911.5L1366.4 913.6L1367.5 915.2L1368.6 916.5L1369.7 918L1370.8 919.2L1371.9 920.4L1373 920.3L1374.1 921.4L1375.2 922.8L1376.3 923.8L1377.4 924.9L1378.5 925.7L1379.6 926.2L1380.7 927L1381.8 928.8L1382.9 929.4L1384 929.5L1385.1 930L1386.2 930.4L1387.3 930.9L1388.4 931.6L1389.5 932L1390.6 931.6L1391.7 932L1392.8 932.3L1393.9 932.6L1395 932.9L1396.1 933.2L1397.2 934.2L1398.3 934.4L1399.4 934.5L1400.5 934.7L1401.6 935L1402.7 935.2L1403.8 935.7L1404.9 935.8L1406 934.6L1407.1 934.7L1408.2 935.3L1409.3 935.4L1410.4 935.9L1411.5 936L1412.6 935.2L1413.7 935.3L1414.8 935.9L1415.9 935.9L1417 936.8L1418.1 936.9L1419.2 937L1420.3 937L1421.4 937.1L1422.5 937.1L1423.6 936.6L1424.7 936.6L1425.8 936.5L1426.9 936.5L1428 937.3L1429.1 937.3L1430.2 936.5L1431.3 936.5L1432.4 936.9L1433.5 936.9L1434.6 937.5L1435.7 937.5L1436.8 936.5L1437.9 936.5L1439 936.4L1440.1 936.4L1441.2 936.7L1442.3 936.7L1443.4 937L1444.5 937L1445.6 936.9L1446.7 936.9L1447.8 936.7L1448.9 936.6L1450 936.8L1451.1 936.8L1452.2 935.6L1453.3 935.5L1454.4 935.9L1455.5 935.9L1456.6 936.4L1457.7 936.3L1458.8 935.7L1459.9 935.6L1461 935.3L1462.1 935.3L1463.2 935.3L1464.3 935.2L1465.4 935.3L1466.5 935.2L1467.6 935.6L1468.7 935.5L1469.8 934.9L1470.9 934.9L1472 935.5L1473.1 935.4L1474.2 936.1L1475.3 936L1476.4 934.8L1477.5 934.7L1478.6 935.4L1479.7 935.2L1480.8 934.6L1481.9 934.4L1483 933.5L1484.1 933.3L1485.2 933.6L1486.3 933.5L1487.4 932.9L1488.5 932.7L1489.6 933.4L1490.7 933.2L1491.8 931.9L1492.9 931.7L1494 932.8L1495.1 932.5L1496.2 931.8L1497.3 931.5L1498.4 929.7L1499.5 929.4L1500.6 930.5L1501.7 930.1L1502.8 930.1L1503.9 929.7L1505 927.9L1506.1 927.4L1507.2 927.8L1508.3 927.2L1509.4 925L1510.5 924.3L1511.6 924.7L1512.7 924L1513.8 922.1L1514.9 921.2L1516 921.4L1517.1 920.3L1518.2 918L1519.3 916.8L1520.4 915.1L1521.5 913.7L1522.6 913.9L1523.7 912.4L1524.8 911.8L1525.9 910.1L1527 906.7L1528.1 904.8L1529.2 903.6L1530.3 901.5L1531.4 898.9L1532.5 896.7L1533.6 894.1L1534.7 891.8L1535.8 890L1536.9 887.7L1538 886L1539.1 883.9L1540.2 880.3L1541.3 878.5L1542.4 877.9L1543.5 876.6L1544.6 875.6L1545.7 875L1546.8 873.8L1547.9 874L1549 876.2L1550.1 877.1L1551.2 878.6L1552.3 880.1L1553.4 880.3L1554.5 882.3L1555.6 885.9L1556.7 888.2L1557.8 889.6L1558.9 891.9L1560 894.1L1561.1 896.4L1562.2 899.6L1563.3 901.8L1564.4 903.2L1565.5 905.2L1566.6 907.2L1567.7 909L1568.8 911.4L1569.9 913L1571 914.4L1572.1 915.9L1573.2 917L1574.3 918.3L1575.4 918.2L1576.5 919.3L1577.6 920.3L1578.7 921.3L1579.8 923.7L1580.9 924.5L1582 924.2L1583.1 924.9L1584.2 926.2L1585.3 926.9L1586.4 926.8L1587.5 927.4L1588.6 928.4L1589.7 928.9L1590.8 928.7L1591.9 929.2L1593 931.2L1594.1 931.6L1595.2 930.5L1596.3 930.8L1597.4 931.6L1598.5 931.9L1599.6 932.1L1600.7 932.4L1601.8 933.4L1602.9 933.7L1604 932.5L1605.1 932.7L1606.2 933.6L1607.3 933.8L1608.4 933.9L1609.5 934.1L1610.6 934.7L1611.7 934.8L1612.8 934.9L1613.9 935.1L1615 934.7L1616.1 934.8L1617.2 935.3L1618.3 935.5L1619.4 935.2L1620.5 935.3L1621.6 935.9L1622.7 936L1623.8 935.8L1624.9 935.9L1626 935.7L1627.1 935.8L1628.2 936.2L1629.3 936.3L1630.4 936.5L1631.5 936.6L1632.6 937.7L1633.7 937.8L1634.8 936.3L1635.9 936.4L1637 936.9L1638.1 936.9L1639.2 937.6L1640.3 937.7L1641.4 935.8L1642.5 935.8L1643.6 936L1644.7 936.1L1645.8 936.4L1646.9 936.5L1648 937.1L1649.1 937.1L1650.2 938.5L1651.3 938.6L1652.4 937.5L1653.5 937.5L1654.6 937.9L1655.7 937.9L1656.8 937.2L1657.9 937.2L1659 935.9L1660.1 935.9L1661.2 936L1662.3 936L1663.4 937.8L1664.5 937.7L1665.6 937.2L1666.7 937.2L1667.8 936.3L1668.9 936.2L1670 937.5L1671.1 937.4L1672.2 935.8L1673.3 935.7L1674.4 937L1675.5 936.9L1676.6 936.9L1677.7 936.7L1678.8 935.3L1679.9 935.1L1681 934.6L1682.1 934.4L1683.2 935.2L1684.3 934.9L1685.4 933.5L1686.5 933.2L1687.6 933.9L1688.7 933.5L1689.8 932L1690.9 931.6L1692 932.2L1693.1 931.8L1694.2 931L1695.3 930.5L1696.4 929.8L1697.5 929.3L1698.6 928.6L1699.7 928.1L1700.8 928.3L1701.9 927.8L1703 926.2L1704.1 925.8L1705.2 926.3L1706.3 925.9L1707.4 925.5L1708.5 925.2L1709.6 925.5L1710.7 925.3L1711.8 924L1712.9 923.9L1714 925.4L1715.1 925.4L1716.2 924.3L1717.3 924.4L1718.4 924L1719.5 924.2L1720.6 925.8L1721.7 926.1L1722.8 926.5L1723.9 926.8L1725 926.2L1726.1 926.5L1727.2 926.5L1728.3 927L1729.4 927.9L1730.5 928.3L1731.6 928.4L1732.7 928.8L1733.8 929.5L1734.9 929.9L1736 931.4L1737.1 931.8L1738.2 931.5L1739.3 931.9L1740.4 932.2L1741.5 932.5L1742.6 933L1743.7 933.3L1744.8 933.4L1745.9 933.7L1747 934.4L1748.1 934.7L1749.2 934.9L1750.3 935.1L1751.4 934.6L1752.5 934.8L1753.6 935.2L1754.7 935.3L1755.8 936.7L1756.9 936.7L1758 935.7L1759.1 935.8L1760.2 935.5L1761.3 935.5L1762.4 936.8L1763.5 936.8L1764.6 935.6L1765.7 935.6L1766.8 935L1767.9 934.9L1769 935.9L1770.1 935.8L1771.2 934.9L1772.3 934.8L1773.4 934.9L1774.5 934.9L1775.6 935.2L1776.7 935.1L1777.8 934.7L1778.9 934.6L1780 934.2L1781.1 934L1782.2 934L1783.3 933.9L1784.4 933.7L1785.5 933.5L1786.6 934.3L1787.7 934.1L1788.8 932.9L1789.9 932.7L1791 932.6L1792.1 932.4L1793.2 933.6L1794.3 933.3L1795.4 931.7L1796.5 931.4L1797.6 932.2L1798.7 931.9L1799.8 931.5L1800.9 931.2L1802 930.1L1803.1 929.7L1804.2 928.6L1805.3 928.2L1806.4 928.8L1807.5 928.4L1808.6 928.1L1809.7 927.6L1810.8 927.2L1811.9 926.7L1813 925.6L1814.1 925L1815.2 924.9L1816.3 924.2L1817.4 923.6L1818.5 922.8L1819.6 920.7L1820.7 919.8L1821.8 920.2L1822.9 919.3L1824 917.5L1825.1 916.4L1826.2 914.9L1827.3 913.7L1828.4 912.5L1829.5 911.1L1830.6 910.9L1831.7 909.4L1832.8 907.3L1833.9 905.7L1835 902.4L1836.1 900.6L1837.2 899.8L1838.3 897.9L1839.4 895.8L1840.5 893.8L1841.6 891.8L1842.7 889.9L1843.8 887.8L1844.9 885.9L1846 883.7L1847.1 882L1848.2 881.9L1849.3 880.6L1850.4 878.5L1851.5 877.7L1852.6 877.4L1853.7 877.1L1854.8 876.9L1855.9 877.1L1857 877.4L1858.1 878.1L1859.2 879.6L1860.3 880.6L1861.4 881.4L1862.5 882.5L1863.6 883L1864.7 884.2L1865.8 885.1L1866.9 886.2L1868 887.4L1869.1 888.2L1870.2 889.7L1871.3 890.3L1872.4 890.3L1873.5 890.6L1874.6 890.8L1875.7 890.8L1876.8 890.3L1877.9 890L1879 889.6L1880.1 888.9L1881.2 888.5L1882.3 887.6L1883.4 885.6L1884.5 884.6L1885.6 885.4L1886.7 884.3L1887.8 881.9L1888.9 880.8L1890 879.9L1891.1 879L1892.2 879.3L1893.3 878.7L1894.4 877.8L1895.5 877.7L1896.6 877.7L1897.7 878.2L1898.8 878.5L1899.9 879.5L1901 880.2L1902.1 881.7L1903.2 884.4L1904.3 886.3L1905.4 888.9L1906.5 891L1907.6 892L1908.7 894.3L1909.8 897.8L1910.9 900L1912 900.9L1913.1 903.1L1914.2 905.4L1915.3 907.5L1916.4 910.2L1917.5 912.1L1918.6 913.6L1919.7 915.3L1920.8 917.3L1921.9 918.8L1923 919.5L1924.1 920.8L1925.2 921.9L1926.3 923.1L1927.4 923.7L1928.5 924.7L1929.6 926L1930.7 926.9L1931.8 927.8L1932.9 928.5L1934 929L1935.1 929.6L1936.2 931.1L1937.3 931.6L1938.4 931.6L1939.5 932L1940.6 931.7L1941.7 932.1L1942.8 934.9L1943.9 935.2L1945 933.7L1946.1 933.9L1947.2 934L1948.3 934.2L1949.4 935.8L1950.5 936L1951.6 936.2L1952.7 936.4L1953.8 935.3L1954.9 935.4L1956 935.4L1957.1 935.6L1958.2 936L1959.3 936.1L1960.4 937.4L1961.5 937.6L1962.6 936.9L1963.7 937L1964.8 936.9L1965.9 937L1967 937.5L1968.1 937.6L1969.2 938.4L1970.3 938.5" fill="none" stroke="#008080" stroke-width="6" stroke-linejoin="round"/><path d="M218 1053.3L219.1 1053.2L220.2 1053.8L221.3 1053.8L222.4 1053.6L223.5 1053.6L224.6 1053.6L225.7 1053.6L226.8 1054L227.9 1054L229 1052.5L230.1 1052.4L231.2 1052.7L232.3 1052.7L233.4 1052.3L234.5 1052.3L235.6 1052.9L236.7 1052.9L237.8 1053.5L238.9 1053.5L240 1052.9L241.1 1052.9L242.2 1053.1L243.3 1053.1L244.4 1051.7L245.5 1051.7L246.6 1052.8L247.7 1052.7L248.8 1052.1L249.9 1052.1L251 1053.5L252.1 1053.5L253.2 1052.9L254.3 1052.9L255.4 1052.9L256.5 1052.8L257.6 1052.2L258.7 1052.2L259.8 1052.5L260.9 1052.4L262 1052.4L263.1 1052.3L264.2 1051.6L265.3 1051.6L266.4 1051.4L267.5 1051.3L268.6 1051.4L269.7 1051.3L270.8 1050.9L271.9 1050.8L273 1050.6L274.1 1050.5L275.2 1050.5L276.3 1050.3L277.4 1049.9L278.5 1049.7L279.6 1050.3L280.7 1050L281.8 1048.5L282.9 1048.2L284 1049.2L285.1 1048.8L286.2 1047.6L287.3 1047.2L288.4 1046.8L289.5 1046.3L290.6 1045.4L291.7 1044.8L292.8 1044.8L293.9 1044.1L295 1043.4L296.1 1042.6L297.2 1042L298.3 1041.1L299.4 1039.8L300.5 1038.8L301.6 1038.1L302.7 1037L303.8 1036.8L304.9 1035.6L306 1033.6L307.1 1032.4L308.2 1030.6L309.3 1029.4L310.4 1029L311.5 1027.8L312.6 1026.2L313.7 1025.2L314.8 1024.7L315.9 1023.9L317 1023.4L318.1 1023L319.2 1022.3L320.3 1022.3L321.4 1021.7L322.5 1022.2L323.6 1023.7L324.7 1024.5L325.8 1025.9L326.9 1026.9L328 1027.5L329.1 1028.7L330.2 1030.4L331.3 1031.6L332.4 1033.2L333.5 1034.4L334.6 1034.8L335.7 1035.9L336.8 1038L337.9 1039.1L339 1040.4L340.1 1041.3L341.2 1042L342.3 1042.8L343.4 1043.7L344.5 1044.5L345.6 1045.1L346.7 1045.8L347.8 1047L348.9 1047.6L350 1047L351.1 1047.5L352.2 1047.8L353.3 1048.2L354.4 1048.9L355.5 1049.3L356.6 1048.8L357.7 1049L358.8 1049L359.9 1049.2L361 1049.8L362.1 1050L363.2 1050.9L364.3 1051L365.4 1051.3L366.5 1051.4L367.6 1050.4L368.7 1050.6L369.8 1050.5L370.9 1050.6L372 1051.6L373.1 1051.7L374.2 1051.8L375.3 1051.9L376.4 1052.1L377.5 1052.1L378.6 1052.6L379.7 1052.7L380.8 1053L381.9 1053.1L383 1052.6L384.1 1052.7L385.2 1052.9L386.3 1053L387.4 1052.1L388.5 1052.1L389.6 1052.1L390.7 1052.2L391.8 1053L392.9 1053L394 1053.3L395.1 1053.3L396.2 1053.4L397.3 1053.4L398.4 1053.4L399.5 1053.4L400.6 1053.6L401.7 1053.6L402.8 1053.6L403.9 1053.6L405 1052.3L406.1 1052.3L407.2 1052.9L408.3 1052.9L409.4 1053.6L410.5 1053.6L411.6 1053.7L412.7 1053.7L413.8 1052.5L414.9 1052.6L416 1054.1L417.1 1054.1L418.2 1053.2L419.3 1053.2L420.4 1053.3L421.5 1053.4L422.6 1053.6L423.7 1053.7L424.8 1053.9L425.9 1053.9L427 1052.8L428.1 1052.8L429.2 1054.1L430.3 1054.1L431.4 1053.6L432.5 1053.6L433.6 1053.2L434.7 1053.2L435.8 1053.5L436.9 1053.5L438 1052.4L439.1 1052.4L440.2 1053.3L441.3 1053.3L442.4 1053.7L443.5 1053.7L444.6 1053.3L445.7 1053.3L446.8 1053.5L447.9 1053.5L449 1053.6L450.1 1053.6L451.2 1053.7L452.3 1053.7L453.4 1054.2L454.5 1054.2L455.6 1053.7L456.7 1053.7L457.8 1053.5L458.9 1053.5L460 1054L461.1 1054L462.2 1054.8L463.3 1054.8L464.4 1053.5L465.5 1053.5L466.6 1054L467.7 1054L468.8 1052.8L469.9 1052.8L471 1054.4L472.1 1054.4L473.2 1054L474.3 1054L475.4 1054.4L476.5 1054.4L477.6 1053.6L478.7 1053.6L479.8 1053.1L480.9 1053.1L482 1054.1L483.1 1054.1L484.2 1054L485.3 1054L486.4 1053.1L487.5 1053.1L488.6 1052.8L489.7 1052.8L490.8 1053.8L491.9 1053.8L493 1053.5L494.1 1053.5L495.2 1055L496.3 1055L497.4 1053.2L498.5 1053.2L499.6 1053.2L500.7 1053.2L501.8 1053.4L502.9 1053.4L504 1052.6L505.1 1052.6L506.2 1053L507.3 1053L508.4 1054.3L509.5 1054.3L510.6 1053.3L511.7 1053.3L512.8 1053L513.9 1053L515 1052.7L516.1 1052.6L517.2 1053.6L518.3 1053.6L519.4 1053.7L520.5 1053.6L521.6 1053.4L522.7 1053.4L523.8 1053L524.9 1053L526 1053.4L527.1 1053.3L528.2 1053.4L529.3 1053.3L530.4 1052.7L531.5 1052.7L532.6 1053.4L533.7 1053.4L534.8 1051.9L535.9 1051.8L537 1052.3L538.1 1052.2L539.2 1052.8L540.3 1052.7L541.4 1052.8L542.5 1052.8L543.6 1052.2L544.7 1052.1L545.8 1052.9L546.9 1052.9L548 1053.3L549.1 1053.2L550.2 1052.9L551.3 1052.8L552.4 1052.7L553.5 1052.6L554.6 1052.9L555.7 1052.9L556.8 1052.6L557.9 1052.6L559 1051.7L560.1 1051.7L561.2 1052.1L562.3 1052.1L563.4 1052.9L564.5 1052.8L565.6 1051.4L566.7 1051.4L567.8 1052L568.9 1051.9L570 1051.6L571.1 1051.6L572.2 1051.2L573.3 1051.2L574.4 1051.1L575.5 1051L576.6 1051.5L577.7 1051.5L578.8 1051.5L579.9 1051.5L581 1051.4L582.1 1051.3L583.2 1050.3L584.3 1050.2L585.4 1050.7L586.5 1050.7L587.6 1050.9L588.7 1050.8L589.8 1051.1L590.9 1051L592 1050.7L593.1 1050.6L594.2 1050.6L595.3 1050.5L596.4 1050.6L597.5 1050.4L598.6 1050.2L599.7 1050.1L600.8 1049L601.9 1048.9L603 1049.2L604.1 1049.1L605.2 1048.5L606.3 1048.4L607.4 1047.3L608.5 1047.2L609.6 1047.4L610.7 1047.2L611.8 1049.1L612.9 1048.9L614 1047L615.1 1046.8L616.2 1045.9L617.3 1045.7L618.4 1046.4L619.5 1046.2L620.6 1047.1L621.7 1046.8L622.8 1045.7L623.9 1045.4L625 1045.4L626.1 1045.1L627.2 1044.4L628.3 1044.1L629.4 1043.8L630.5 1043.5L631.6 1043.8L632.7 1043.4L633.8 1042.8L634.9 1042.3L636 1041.4L637.1 1040.9L638.2 1041L639.3 1040.4L640.4 1040L641.5 1039.4L642.6 1038.1L643.7 1037.4L644.8 1037L645.9 1036.3L647 1035.5L648.1 1034.7L649.2 1033.4L650.3 1032.5L651.4 1032.5L652.5 1031.5L653.6 1029.7L654.7 1028.5L655.8 1027.1L656.9 1025.8L658 1023.8L659.1 1022.3L660.2 1021L661.3 1019.3L662.4 1019L663.5 1017.1L664.6 1013.5L665.7 1011.3L666.8 1009.8L667.9 1007.2L669 1004L670.1 1001L671.2 998.3L672.3 994.9L673.4 991.2L674.5 987.2L675.6 982.2L676.7 977.6L677.8 972.9L678.9 967.7L680 962.3L681.1 956.3L682.2 949.9L683.3 943.3L684.4 936.2L685.5 929L686.6 921.4L687.7 913.9L688.8 907L689.9 899.8L691 893.3L692.1 887L693.2 881.1L694.3 876.6L695.4 872.5L696.5 870.5L697.6 870.4L698.7 871.2L699.8 873.2L700.9 876.6L702 881.4L703.1 886.9L704.2 893.9L705.3 900.7L706.4 906.8L707.5 914.1L708.6 921.6L709.7 928.9L710.8 935.5L711.9 942.3L713 949.2L714.1 955.3L715.2 961L716.3 966.4L717.4 972.7L718.5 977.3L719.6 981L720.7 985L721.8 988.2L722.9 991.6L724 996L725.1 998.8L726.2 999.6L727.3 1001.9L728.4 1005.1L729.5 1006.9L730.6 1008.6L731.7 1010L732.8 1010.9L733.9 1011.8L735 1012L736.1 1012.5L737.2 1012.7L738.3 1012.7L739.4 1012.3L740.5 1011.7L741.6 1011.4L742.7 1010.2L743.8 1006.9L744.9 1005L746 1003.6L747.1 1000.7L748.2 997.7L749.3 993.8L750.4 988.9L751.5 983.7L752.6 977.1L753.7 970.5L754.8 964L755.9 955.8L757 946.6L758.1 936.9L759.2 927.5L760.3 916.6L761.4 905.7L762.5 894.3L763.6 882.3L764.7 871.4L765.8 860.2L766.9 851.2L768 844.7L769.1 839L770.2 834.9L771.3 833.5L772.4 835.2L773.5 838.4L774.6 844.3L775.7 851.6L776.8 859.8L777.9 870L779 882.1L780.1 893.8L781.2 905.5L782.3 917.5L783.4 928.7L784.5 940L785.6 949.7L786.7 959.7L787.8 969.5L788.9 978L790 984.9L791.1 991.9L792.2 999.6L793.3 1005.3L794.4 1009.9L795.5 1014.4L796.6 1019.2L797.7 1022.8L798.8 1025.4L799.9 1028.3L801 1029.6L802.1 1031.8L803.2 1035.3L804.3 1037.1L805.4 1038.8L806.5 1040.2L807.6 1041.9L808.7 1043.1L809.8 1042.6L810.9 1043.6L812 1044.4L813.1 1045.2L814.2 1046.4L815.3 1047L816.4 1046.9L817.5 1047.4L818.6 1047.7L819.7 1048.1L820.8 1048.6L821.9 1049L823 1051.3L824.1 1051.6L825.2 1050.1L826.3 1050.3L827.4 1050.4L828.5 1050.6L829.6 1051.1L830.7 1051.2L831.8 1051.7L832.9 1051.8L834 1052.7L835.1 1052.8L836.2 1052.7L837.3 1052.8L838.4 1052.9L839.5 1053L840.6 1052.6L841.7 1052.7L842.8 1052.9L843.9 1052.9L845 1052.5L846.1 1052.6L847.2 1052.2L848.3 1052.2L849.4 1054.2L850.5 1054.2L851.6 1052.8L852.7 1052.8L853.8 1053.6L854.9 1053.6L856 1052.8L857.1 1052.7L858.2 1052.8L859.3 1052.7L860.4 1052.6L861.5 1052.5L862.6 1051.7L863.7 1051.5L864.8 1052.1L865.9 1051.9L867 1052L868.1 1051.8L869.2 1051.8L870.3 1051.6L871.4 1051.2L872.5 1050.9L873.6 1051L874.7 1050.7L875.8 1050.1L876.9 1049.9L878 1049.5L879.1 1049.3L880.2 1048L881.3 1047.8L882.4 1048.5L883.5 1048.3L884.6 1049.4L885.7 1049.3L886.8 1048.5L887.9 1048.5L889 1048.9L890.1 1049L891.2 1048.5L892.3 1048.7L893.4 1048.6L894.5 1048.8L895.6 1050.5L896.7 1050.7L897.8 1050.1L898.9 1050.3L900 1051.2L901.1 1051.5L902.2 1051.3L903.3 1051.6L904.4 1051.4L905.5 1051.7L906.6 1050.9L907.7 1051.1L908.8 1052.7L909.9 1052.9L911 1052.2L912.1 1052.5L913.2 1052.3L914.3 1052.5L915.4 1054.6L916.5 1054.7L917.6 1054.6L918.7 1054.7L919.8 1054.8L920.9 1054.9L922 1054.7L923.1 1054.8L924.2 1054.8L925.3 1054.9L926.4 1055.2L927.5 1055.2L928.6 1055.1L929.7 1055.2L930.8 1055.2L931.9 1055.2L933 1055.6L934.1 1055.6L935.2 1053.9L936.3 1053.9L937.4 1055.8L938.5 1055.8L939.6 1054.9L940.7 1054.9L941.8 1055.7L942.9 1055.7L944 1055.9L945.1 1055.8L946.2 1054.7L947.3 1054.7L948.4 1055.5L949.5 1055.5L950.6 1055.4L951.7 1055.3L952.8 1054.4L953.9 1054.3L955 1054.2L956.1 1054.1L957.2 1054.2L958.3 1054L959.4 1052.5L960.5 1052.3L961.6 1053L962.7 1052.7L963.8 1052.7L964.9 1052.3L966 1051.5L967.1 1051.1L968.2 1050L969.3 1049.5L970.4 1049.6L971.5 1049.1L972.6 1049.5L973.7 1048.9L974.8 1048.2L975.9 1047.6L977 1046.2L978.1 1045.6L979.2 1044.6L980.3 1044L981.4 1043.8L982.5 1043.3L983.6 1042.8L984.7 1042.4L985.8 1041.6L986.9 1041.3L988 1041.2L989.1 1041L990.2 1041.5L991.3 1041.5L992.4 1041.7L993.5 1041.9L994.6 1040.2L995.7 1040.6L996.8 1042.8L997.9 1043.3L999 1043.3L1000.1 1043.8L1001.2 1045L1002.3 1045.6L1003.4 1045.5L1004.5 1046.2L1005.6 1047.1L1006.7 1047.7L1007.8 1049L1008.9 1049.6L1010 1047.7L1011.1 1048.3L1012.2 1051.4L1013.3 1051.9L1014.4 1051.6L1015.5 1052.1L1016.6 1051.4L1017.7 1051.8L1018.8 1051.8L1019.9 1052.1L1021 1054.1L1022.1 1054.3L1023.2 1053.9L1024.3 1054.1L1025.4 1055.4L1026.5 1055.6L1027.6 1055.3L1028.7 1055.5L1029.8 1055.4L1030.9 1055.5L1032 1056.2L1033.1 1056.3L1034.2 1056L1035.3 1056L1036.4 1056.4L1037.5 1056.4L1038.6 1056.5L1039.7 1056.6L1040.8 1056.3L1041.9 1056.4L1043 1056.6L1044.1 1056.7L1045.2 1056.7L1046.3 1056.7L1047.4 1055.6L1048.5 1055.6L1049.6 1056.2L1050.7 1056.2L1051.8 1056.3L1052.9 1056.3L1054 1056.2L1055.1 1056.2L1056.2 1055.6L1057.3 1055.6L1058.4 1056.1L1059.5 1056.2L1060.6 1056.7L1061.7 1056.7L1062.8 1056.6L1063.9 1056.6L1065 1057.4L1066.1 1057.4L1067.2 1056.2L1068.3 1056.2L1069.4 1056.3L1070.5 1056.3L1071.6 1056.3L1072.7 1056.3L1073.8 1056.4L1074.9 1056.4L1076 1056.3L1077.1 1056.3L1078.2 1055.6L1079.3 1055.6L1080.4 1056.8L1081.5 1056.8L1082.6 1057.2L1083.7 1057.2L1084.8 1057.3L1085.9 1057.3L1087 1056.1L1088.1 1056.1L1089.2 1056.6L1090.3 1056.6L1091.4 1057.7L1092.5 1057.8L1093.6 1056.7L1094.7 1056.7L1095.8 1056.9L1096.9 1057L1098 1056.7L1099.1 1056.7L1100.2 1057.3L1101.3 1057.3L1102.4 1057.3L1103.5 1057.3L1104.6 1058.1L1105.7 1058.1L1106.8 1057.1L1107.9 1057.1L1109 1057.1L1110.1 1057.1L1111.2 1056.2L1112.3 1056.2L1113.4 1056.6L1114.5 1056.6L1115.6 1056.5L1116.7 1056.5L1117.8 1056.7L1118.9 1056.7L1120 1056.2L1121.1 1056.2L1122.2 1057.6L1123.3 1057.6L1124.4 1056.3L1125.5 1056.3L1126.6 1057.1L1127.7 1057.1L1128.8 1056.2L1129.9 1056.2L1131 1057.1L1132.1 1057.1L1133.2 1057.9L1134.3 1057.9L1135.4 1056.5L1136.5 1056.5L1137.6 1057.2L1138.7 1057.2L1139.8 1056.9L1140.9 1056.9L1142 1057.1L1143.1 1057.1L1144.2 1057.2L1145.3 1057.2L1146.4 1056.6L1147.5 1056.7L1148.6 1056.9L1149.7 1056.9L1150.8 1056.7L1151.9 1056.7L1153 1056.6L1154.1 1056.6L1155.2 1056.4L1156.3 1056.4L1157.4 1057.6L1158.5 1057.6L1159.6 1056.6L1160.7 1056.6L1161.8 1057.4L1162.9 1057.4L1164 1057.4L1165.1 1057.4L1166.2 1056.5L1167.3 1056.5L1168.4 1057.6L1169.5 1057.6L1170.6 1056.6L1171.7 1056.6L1172.8 1057.4L1173.9 1057.4L1175 1057.9L1176.1 1057.9L1177.2 1056.7L1178.3 1056.7L1179.4 1056.6L1180.5 1056.6L1181.6 1056.6L1182.7 1056.6L1183.8 1058.4L1184.9 1058.4L1186 1056.9L1187.1 1056.9L1188.2 1056.4L1189.3 1056.4L1190.4 1057.6L1191.5 1057.6L1192.6 1057L1193.7 1057L1194.8 1057.1L1195.9 1057.1L1197 1056.6L1198.1 1056.6L1199.2 1055.9L1200.3 1055.9L1201.4 1056.7L1202.5 1056.7L1203.6 1056.5L1204.7 1056.5L1205.8 1056.2L1206.9 1056.2L1208 1056.5L1209.1 1056.5L1210.2 1056.6L1211.3 1056.6L1212.4 1057.5L1213.5 1057.5L1214.6 1057.5L1215.7 1057.5L1216.8 1057.3L1217.9 1057.3L1219 1056.8L1220.1 1056.8L1221.2 1056.3L1222.3 1056.3L1223.4 1057.2L1224.5 1057.2L1225.6 1057.3L1226.7 1057.3L1227.8 1057.5L1228.9 1057.5L1230 1057L1231.1 1056.9L1232.2 1056.9L1233.3 1056.9L1234.4 1057.1L1235.5 1057.1L1236.6 1056.4L1237.7 1056.4L1238.8 1056.4L1239.9 1056.4L1241 1057.2L1242.1 1057.2L1243.2 1056.1L1244.3 1056.1L1245.4 1056.7L1246.5 1056.7L1247.6 1057.1L1248.7 1057.1L1249.8 1056.8L1250.9 1056.7L1252 1056.8L1253.1 1056.8L1254.2 1055.9L1255.3 1055.9L1256.4 1056.4L1257.5 1056.3L1258.6 1056.2L1259.7 1056.1L1260.8 1056.6L1261.9 1056.5L1263 1056.4L1264.1 1056.3L1265.2 1056L1266.3 1056L1267.4 1056.9L1268.5 1056.8L1269.6 1056L1270.7 1055.9L1271.8 1055.4L1272.9 1055.3L1274 1055L1275.1 1054.9L1276.2 1055L1277.3 1054.9L1278.4 1054.5L1279.5 1054.3L1280.6 1055.4L1281.7 1055.2L1282.8 1054.4L1283.9 1054.3L1285 1053.6L1286.1 1053.3L1287.2 1052.9L1288.3 1052.6L1289.4 1052.1L1290.5 1051.8L1291.6 1052L1292.7 1051.6L1293.8 1052.1L1294.9 1051.7L1296 1051L1297.1 1050.6L1298.2 1049.6L1299.3 1049.1L1300.4 1048.6L1301.5 1048L1302.6 1046.3L1303.7 1045.6L1304.8 1046.3L1305.9 1045.5L1307 1044.1L1308.1 1043.2L1309.2 1043.1L1310.3 1042L1311.4 1040L1312.5 1038.9L1313.6 1037.4L1314.7 1036.1L1315.8 1035L1316.9 1033.6L1318 1031.5L1319.1 1029.9L1320.2 1029.2L1321.3 1027.4L1322.4 1025L1323.5 1023.1L1324.6 1021.2L1325.7 1019.2L1326.8 1017.2L1327.9 1015.3L1329 1012.9L1330.1 1011L1331.2 1009.7L1332.3 1007.9L1333.4 1006.1L1334.5 1004.7L1335.6 1004.2L1336.7 1003.1L1337.8 1001.3L1338.9 1000.6L1340 1000.4L1341.1 1000.2L1342.2 999.8L1343.3 1000.1L1344.4 1000.8L1345.5 1001.6L1346.6 1002.7L1347.7 1003.9L1348.8 1006.2L1349.9 1007.8L1351 1008.8L1352.1 1010.6L1353.2 1013L1354.3 1014.9L1355.4 1016.2L1356.5 1018.2L1357.6 1020.1L1358.7 1022L1359.8 1023.1L1360.9 1025L1362 1028.3L1363.1 1030L1364.2 1032.4L1365.3 1034L1366.4 1034.2L1367.5 1035.7L1368.6 1038L1369.7 1039.2L1370.8 1040.1L1371.9 1041.3L1373 1041.5L1374.1 1042.5L1375.2 1044.2L1376.3 1045.1L1377.4 1045L1378.5 1045.8L1379.6 1046.8L1380.7 1047.5L1381.8 1048.9L1382.9 1049.5L1384 1049.4L1385.1 1049.9L1386.2 1049.7L1387.3 1050.1L1388.4 1051.9L1389.5 1052.3L1390.6 1051.3L1391.7 1051.6L1392.8 1052.4L1393.9 1052.7L1395 1052.8L1396.1 1053.1L1397.2 1053.4L1398.3 1053.6L1399.4 1053.4L1400.5 1053.6L1401.6 1053.3L1402.7 1053.5L1403.8 1055.5L1404.9 1055.7L1406 1054.3L1407.1 1054.4L1408.2 1054.5L1409.3 1054.6L1410.4 1053.9L1411.5 1053.9L1412.6 1055.4L1413.7 1055.5L1414.8 1056.2L1415.9 1056.3L1417 1056.4L1418.1 1056.4L1419.2 1057.2L1420.3 1057.3L1421.4 1056.6L1422.5 1056.7L1423.6 1056.1L1424.7 1056.1L1425.8 1055.9L1426.9 1056L1428 1056.8L1429.1 1056.8L1430.2 1056L1431.3 1056L1432.4 1056.1L1433.5 1056.1L1434.6 1055.5L1435.7 1055.5L1436.8 1056.1L1437.9 1056.1L1439 1057.1L1440.1 1057.1L1441.2 1056L1442.3 1056L1443.4 1056.2L1444.5 1056.2L1445.6 1054.6L1446.7 1054.6L1447.8 1056.6L1448.9 1056.6L1450 1056.1L1451.1 1056L1452.2 1056.6L1453.3 1056.5L1454.4 1055.9L1455.5 1055.8L1456.6 1055.2L1457.7 1055.1L1458.8 1054.8L1459.9 1054.7L1461 1055.7L1462.1 1055.7L1463.2 1055.3L1464.3 1055.3L1465.4 1054.7L1466.5 1054.6L1467.6 1055L1468.7 1055L1469.8 1054.6L1470.9 1054.5L1472 1055.1L1473.1 1055L1474.2 1054.3L1475.3 1054.2L1476.4 1053.7L1477.5 1053.6L1478.6 1054.1L1479.7 1054L1480.8 1053.6L1481.9 1053.4L1483 1054.4L1484.1 1054.3L1485.2 1053.1L1486.3 1052.9L1487.4 1052.3L1488.5 1052.1L1489.6 1052.6L1490.7 1052.4L1491.8 1052.1L1492.9 1051.8L1494 1051.9L1495.1 1051.6L1496.2 1051.3L1497.3 1051.1L1498.4 1050.1L1499.5 1049.8L1500.6 1050L1501.7 1049.6L1502.8 1049.2L1503.9 1048.8L1505 1047.7L1506.1 1047.3L1507.2 1047.1L1508.3 1046.6L1509.4 1046.4L1510.5 1045.8L1511.6 1044.1L1512.7 1043.4L1513.8 1042.9L1514.9 1042.1L1516 1041.6L1517.1 1040.7L1518.2 1039.9L1519.3 1038.8L1520.4 1038L1521.5 1036.8L1522.6 1034.4L1523.7 1033.1L1524.8 1032.5L1525.9 1030.9L1527 1029.5L1528.1 1027.8L1529.2 1026.5L1530.3 1024.6L1531.4 1021.5L1532.5 1019.5L1533.6 1017.2L1534.7 1015.1L1535.8 1012.6L1536.9 1010.6L1538 1009.7L1539.1 1007.7L1540.2 1006.3L1541.3 1004.7L1542.4 1002.2L1543.5 1001.1L1544.6 1000.8L1545.7 1000.3L1546.8 1000.3L1547.9 1000.5L1549 1001.1L1550.1 1001.9L1551.2 1002.3L1552.3 1003.7L1553.4 1005.9L1554.5 1007.7L1555.6 1009.2L1556.7 1011.3L1557.8 1012.9L1558.9 1015L1560 1017.7L1561.1 1019.8L1562.2 1021.9L1563.3 1023.9L1564.4 1025L1565.5 1026.9L1566.6 1029.4L1567.7 1031L1568.8 1033.4L1569.9 1034.9L1571 1034.4L1572.1 1035.7L1573.2 1038.1L1574.3 1039.3L1575.4 1040.5L1576.5 1041.5L1577.6 1041.9L1578.7 1042.8L1579.8 1043.8L1580.9 1044.6L1582 1045L1583.1 1045.6L1584.2 1047.1L1585.3 1047.7L1586.4 1047L1587.5 1047.5L1588.6 1048.4L1589.7 1048.9L1590.8 1048.3L1591.9 1048.7L1593 1050.3L1594.1 1050.6L1595.2 1051L1596.3 1051.3L1597.4 1050.5L1598.5 1050.7L1599.6 1051.4L1600.7 1051.7L1601.8 1052.6L1602.9 1052.8L1604 1052.5L1605.1 1052.7L1606.2 1052.5L1607.3 1052.7L1608.4 1052.1L1609.5 1052.3L1610.6 1054L1611.7 1054.1L1612.8 1055.1L1613.9 1055.3L1615 1054.1L1616.1 1054.2L1617.2 1054.8L1618.3 1054.9L1619.4 1055L1620.5 1055.1L1621.6 1054.9L1622.7 1055L1623.8 1055.2L1624.9 1055.2L1626 1055.3L1627.1 1055.4L1628.2 1054.9L1629.3 1055L1630.4 1056.9L1631.5 1057L1632.6 1057.2L1633.7 1057.2L1634.8 1056L1635.9 1056L1637 1056.9L1638.1 1056.9L1639.2 1055.5L1640.3 1055.6L1641.4 1055.9L1642.5 1056L1643.6 1056.8L1644.7 1056.8L1645.8 1055.6L1646.9 1055.6L1648 1055.5L1649.1 1055.6L1650.2 1056.5L1651.3 1056.5L1652.4 1055.3L1653.5 1055.3L1654.6 1057.3L1655.7 1057.3L1656.8 1056.8L1657.9 1056.8L1659 1056.5L1660.1 1056.5L1661.2 1056.7L1662.3 1056.7L1663.4 1055.8L1664.5 1055.8L1665.6 1055.7L1666.7 1055.7L1667.8 1056.6L1668.9 1056.5L1670 1056.5L1671.1 1056.4L1672.2 1055.9L1673.3 1055.7L1674.4 1055.5L1675.5 1055.3L1676.6 1054.9L1677.7 1054.7L1678.8 1055.6L1679.9 1055.4L1681 1053.6L1682.1 1053.3L1683.2 1053.4L1684.3 1053.1L1685.4 1052.9L1686.5 1052.6L1687.6 1051.7L1688.7 1051.3L1689.8 1051.1L1690.9 1050.7L1692 1050.4L1693.1 1050L1694.2 1050.7L1695.3 1050.2L1696.4 1050.2L1697.5 1049.7L1698.6 1048.5L1699.7 1048L1700.8 1046.5L1701.9 1046L1703 1046.1L1704.1 1045.7L1705.2 1045.6L1706.3 1045.2L1707.4 1044.8L1708.5 1044.5L1709.6 1044.2L1710.7 1044L1711.8 1044.3L1712.9 1044.2L1714 1042.7L1715.1 1042.7L1716.2 1043.5L1717.3 1043.5L1718.4 1044.1L1719.5 1044.3L1720.6 1044.7L1721.7 1045L1722.8 1045L1723.9 1045.4L1725 1045.6L1726.1 1045.9L1727.2 1046.2L1728.3 1046.6L1729.4 1046.8L1730.5 1047.2L1731.6 1048.1L1732.7 1048.5L1733.8 1048.8L1734.9 1049.2L1736 1049.4L1737.1 1049.8L1738.2 1051.2L1739.3 1051.6L1740.4 1052L1741.5 1052.4L1742.6 1051.8L1743.7 1052.2L1744.8 1053L1745.9 1053.3L1747 1053.9L1748.1 1054.1L1749.2 1053.8L1750.3 1054L1751.4 1054.1L1752.5 1054.3L1753.6 1054.6L1754.7 1054.8L1755.8 1053.7L1756.9 1053.8L1758 1054L1759.1 1054L1760.2 1055.2L1761.3 1055.2L1762.4 1055.1L1763.5 1055.1L1764.6 1055.7L1765.7 1055.7L1766.8 1054.6L1767.9 1054.6L1769 1055.5L1770.1 1055.4L1771.2 1055.3L1772.3 1055.3L1773.4 1055.7L1774.5 1055.6L1775.6 1054L1776.7 1053.9L1777.8 1054.1L1778.9 1054L1780 1054.2L1781.1 1054.1L1782.2 1054L1783.3 1053.9L1784.4 1053L1785.5 1052.9L1786.6 1053L1787.7 1052.8L1788.8 1052.2L1789.9 1052.1L1791 1053.9L1792.1 1053.7L1793.2 1052.2L1794.3 1052L1795.4 1051.8L1796.5 1051.5L1797.6 1051L1798.7 1050.7L1799.8 1050.8L1800.9 1050.5L1802 1050.6L1803.1 1050.3L1804.2 1049.4L1805.3 1049L1806.4 1048.8L1807.5 1048.4L1808.6 1049.2L1809.7 1048.8L1810.8 1047.6L1811.9 1047.1L1813 1046.3L1814.1 1045.7L1815.2 1044.8L1816.3 1044.2L1817.4 1043.7L1818.5 1043.1L1819.6 1041.9L1820.7 1041.2L1821.8 1040.9L1822.9 1040.1L1824 1038.6L1825.1 1037.7L1826.2 1036.6L1827.3 1035.5L1828.4 1034.6L1829.5 1033.4L1830.6 1031.7L1831.7 1030.4L1832.8 1029.7L1833.9 1028.2L1835 1028L1836.1 1026.4L1837.2 1023L1838.3 1021.3L1839.4 1019.1L1840.5 1017.3L1841.6 1017L1842.7 1015.3L1843.8 1013L1844.9 1011.4L1846 1011L1847.1 1009.6L1848.2 1007.4L1849.3 1006.3L1850.4 1005.6L1851.5 1004.9L1852.6 1003.5L1853.7 1003.2L1854.8 1002.7L1855.9 1002.8L1857 1004L1858.1 1004.5L1859.2 1005.6L1860.3 1006.5L1861.4 1006.5L1862.5 1007.5L1863.6 1008.1L1864.7 1009.1L1865.8 1010.6L1866.9 1011.5L1868 1012.4L1869.1 1013.1L1870.2 1013.8L1871.3 1014.3L1872.4 1014.9L1873.5 1015.2L1874.6 1016.6L1875.7 1016.6L1876.8 1015.1L1877.9 1014.8L1879 1014.1L1880.1 1013.6L1881.2 1012.6L1882.3 1011.9L1883.4 1012.1L1884.5 1011.2L1885.6 1008.9L1886.7 1008L1887.8 1008.6L1888.9 1007.7L1890 1006L1891.1 1005.2L1892.2 1003.7L1893.3 1003.2L1894.4 1003.8L1895.5 1003.7L1896.6 1003.7L1897.7 1004.1L1898.8 1005.5L1899.9 1006.3L1901 1006L1902.1 1007.3L1903.2 1009.7L1904.3 1011.4L1905.4 1013L1906.5 1014.9L1907.6 1017.4L1908.7 1019.4L1909.8 1020.2L1910.9 1022.2L1912 1024.4L1913.1 1026.3L1914.2 1029.7L1915.3 1031.5L1916.4 1032.5L1917.5 1034.2L1918.6 1034.7L1919.7 1036.2L1920.8 1038.6L1921.9 1040L1923 1040.6L1924.1 1041.8L1925.2 1043L1926.3 1044L1927.4 1044.7L1928.5 1045.6L1929.6 1047.6L1930.7 1048.4L1931.8 1048.2L1932.9 1048.9L1934 1049.9L1935.1 1050.4L1936.2 1050.8L1937.3 1051.3L1938.4 1050.8L1939.5 1051.2L1940.6 1052L1941.7 1052.3L1942.8 1053.5L1943.9 1053.8L1945 1052.7L1946.1 1053L1947.2 1054.2L1948.3 1054.4L1949.4 1054.4L1950.5 1054.6L1951.6 1055.2L1952.7 1055.4L1953.8 1055.6L1954.9 1055.7L1956 1055.9L1957.1 1056.1L1958.2 1055.8L1959.3 1055.9L1960.4 1056.1L1961.5 1056.2L1962.6 1055.8L1963.7 1055.9L1964.8 1056.1L1965.9 1056.2L1967 1057.1L1968.1 1057.2L1969.2 1056.5L1970.3 1056.6" fill="none" stroke="#0000ff" stroke-width="6" stroke-linejoin="round"/><path d="M218 1158.6L219.1 1158.6L220.2 1155.9L221.3 1155.9L222.4 1158.1L223.5 1158.1L224.6 1157.6L225.7 1157.6L226.8 1158.3L227.9 1158.2L229 1157.7L230.1 1157.7L231.2 1158.5L232.3 1158.5L233.4 1157.5L234.5 1157.4L235.6 1157.1L236.7 1157.1L237.8 1157.7L238.9 1157.7L240 1157.6L241.1 1157.5L242.2 1157.1L243.3 1157.1L244.4 1157.1L245.5 1157.1L246.6 1157.6L247.7 1157.5L248.8 1157.5L249.9 1157.5L251 1156.8L252.1 1156.8L253.2 1156.8L254.3 1156.7L255.4 1155.9L256.5 1155.9L257.6 1157.7L258.7 1157.7L259.8 1156.6L260.9 1156.6L262 1157.4L263.1 1157.3L264.2 1156.7L265.3 1156.7L266.4 1157.4L267.5 1157.4L268.6 1157.1L269.7 1157L270.8 1156.2L271.9 1156.1L273 1156.6L274.1 1156.5L275.2 1155.1L276.3 1154.9L277.4 1156L278.5 1155.8L279.6 1154.1L280.7 1153.9L281.8 1154.7L282.9 1154.5L284 1154.6L285.1 1154.4L286.2 1153.6L287.3 1153.3L288.4 1152.6L289.5 1152.2L290.6 1151.5L291.7 1151.1L292.8 1150.9L293.9 1150.3L295 1150.5L296.1 1149.9L297.2 1149.2L298.3 1148.5L299.4 1147.1L300.5 1146.3L301.6 1145L302.7 1144.1L303.8 1144.3L304.9 1143.3L306 1141.2L307.1 1140.2L308.2 1139.8L309.3 1138.8L310.4 1137.7L311.5 1136.8L312.6 1136.8L313.7 1136L314.8 1135L315.9 1134.5L317 1134.1L318.1 1133.8L319.2 1133.6L320.3 1133.6L321.4 1133.3L322.5 1133.7L323.6 1134.8L324.7 1135.4L325.8 1136.6L326.9 1137.5L328 1137.6L329.1 1138.5L330.2 1139.8L331.3 1140.8L332.4 1141.3L333.5 1142.3L334.6 1143.9L335.7 1144.8L336.8 1145.5L337.9 1146.3L339 1147.3L340.1 1148L341.2 1148.5L342.3 1149.2L343.4 1150.5L344.5 1151.1L345.6 1150.6L346.7 1151.1L347.8 1151.6L348.9 1152L350 1152.3L351.1 1152.7L352.2 1153.7L353.3 1154L354.4 1153.6L355.5 1153.9L356.6 1154.1L357.7 1154.3L358.8 1155.3L359.9 1155.5L361 1155.9L362.1 1156.1L363.2 1155.9L364.3 1156L365.4 1154.4L366.5 1154.5L367.6 1155.5L368.7 1155.6L369.8 1155.7L370.9 1155.8L372 1155.8L373.1 1155.8L374.2 1156.3L375.3 1156.4L376.4 1157.7L377.5 1157.8L378.6 1156.6L379.7 1156.7L380.8 1156.5L381.9 1156.6L383 1157.4L384.1 1157.4L385.2 1157.1L386.3 1157.2L387.4 1157.2L388.5 1157.3L389.6 1156.9L390.7 1156.9L391.8 1157.3L392.9 1157.3L394 1157.6L395.1 1157.6L396.2 1156.4L397.3 1156.4L398.4 1156.6L399.5 1156.6L400.6 1158.1L401.7 1158.1L402.8 1158L403.9 1158L405 1157.3L406.1 1157.3L407.2 1157.1L408.3 1157.1L409.4 1157.6L410.5 1157.6L411.6 1157L412.7 1157L413.8 1157.5L414.9 1157.5L416 1158.7L417.1 1158.7L418.2 1157.8L419.3 1157.9L420.4 1158.4L421.5 1158.4L422.6 1157.7L423.7 1157.7L424.8 1158L425.9 1158L427 1158.6L428.1 1158.6L429.2 1157.1L430.3 1157.1L431.4 1157.7L432.5 1157.7L433.6 1157.8L434.7 1157.8L435.8 1158.1L436.9 1158.1L438 1158.8L439.1 1158.8L440.2 1158.3L441.3 1158.3L442.4 1157.1L443.5 1157.1L444.6 1157.8L445.7 1157.8L446.8 1157.5L447.9 1157.5L449 1157.4L450.1 1157.4L451.2 1159.1L452.3 1159.1L453.4 1157.4L454.5 1157.4L455.6 1158.1L456.7 1158.1L457.8 1157.6L458.9 1157.6L460 1158.4L461.1 1158.4L462.2 1158.2L463.3 1158.2L464.4 1158L465.5 1158L466.6 1157.9L467.7 1157.9L468.8 1158.6L469.9 1158.6L471 1157.4L472.1 1157.4L473.2 1157.5L474.3 1157.5L475.4 1157.3L476.5 1157.3L477.6 1158.7L478.7 1158.7L479.8 1157.8L480.9 1157.8L482 1157.4L483.1 1157.4L484.2 1157.7L485.3 1157.7L486.4 1159.3L487.5 1159.3L488.6 1157.8L489.7 1157.8L490.8 1158.4L491.9 1158.4L493 1158.1L494.1 1158.1L495.2 1157.9L496.3 1157.9L497.4 1157.5L498.5 1157.5L499.6 1157.7L500.7 1157.6L501.8 1157.6L502.9 1157.6L504 1156.6L505.1 1156.6L506.2 1159.2L507.3 1159.2L508.4 1158.3L509.5 1158.3L510.6 1157.8L511.7 1157.8L512.8 1157.6L513.9 1157.6L515 1157.3L516.1 1157.3L517.2 1158.2L518.3 1158.2L519.4 1157.6L520.5 1157.5L521.6 1157.9L522.7 1157.9L523.8 1156.8L524.9 1156.8L526 1157.8L527.1 1157.8L528.2 1158.6L529.3 1158.6L530.4 1157.4L531.5 1157.3L532.6 1157.9L533.7 1157.9L534.8 1157.5L535.9 1157.4L537 1158L538.1 1158L539.2 1158L540.3 1157.9L541.4 1157.4L542.5 1157.3L543.6 1157L544.7 1157L545.8 1157.4L546.9 1157.4L548 1157.2L549.1 1157.2L550.2 1156.8L551.3 1156.8L552.4 1157.3L553.5 1157.3L554.6 1157.3L555.7 1157.2L556.8 1156.5L557.9 1156.5L559 1156.8L560.1 1156.8L561.2 1158.5L562.3 1158.4L563.4 1157.2L564.5 1157.2L565.6 1156.8L566.7 1156.7L567.8 1158L568.9 1158L570 1156.3L571.1 1156.2L572.2 1155.1L573.3 1155L574.4 1155.3L575.5 1155.3L576.6 1155.4L577.7 1155.4L578.8 1156.3L579.9 1156.3L581 1156.6L582.1 1156.5L583.2 1154.7L584.3 1154.7L585.4 1156.4L586.5 1156.4L587.6 1155L588.7 1154.9L589.8 1155.7L590.9 1155.6L592 1155.7L593.1 1155.6L594.2 1155.5L595.3 1155.4L596.4 1155.1L597.5 1155L598.6 1155L599.7 1154.9L600.8 1154.1L601.9 1154L603 1154.6L604.1 1154.5L605.2 1154.8L606.3 1154.7L607.4 1154.5L608.5 1154.4L609.6 1155.2L610.7 1155.1L611.8 1154.1L612.9 1154L614 1153.6L615.1 1153.5L616.2 1153.8L617.3 1153.6L618.4 1152.7L619.5 1152.5L620.6 1151.5L621.7 1151.3L622.8 1150.6L623.9 1150.3L625 1152L626.1 1151.8L627.2 1151.2L628.3 1150.9L629.4 1150.8L630.5 1150.5L631.6 1149.6L632.7 1149.3L633.8 1149.3L634.9 1149L636 1149.5L637.1 1149.1L638.2 1147.9L639.3 1147.5L640.4 1146.3L641.5 1145.8L642.6 1145.7L643.7 1145.2L644.8 1145.7L645.9 1145.1L647 1143.2L648.1 1142.5L649.2 1141.1L650.3 1140.4L651.4 1139.8L652.5 1139L653.6 1138.7L654.7 1137.8L655.8 1138L656.9 1137L658 1135.5L659.1 1134.4L660.2 1132.7L661.3 1131.4L662.4 1129.7L663.5 1128.2L664.6 1127.2L665.7 1125.5L666.8 1123.6L667.9 1121.6L669 1119.2L670.1 1116.9L671.2 1114.6L672.3 1111.9L673.4 1108.8L674.5 1105.7L675.6 1103.8L676.7 1100.2L677.8 1094.1L678.9 1090L680 1087L681.1 1082.3L682.2 1076.7L683.3 1071.6L684.4 1067.1L685.5 1061.5L686.6 1055.2L687.7 1049.4L688.8 1043.9L689.9 1038.3L691 1033.1L692.1 1028.2L693.2 1023.8L694.3 1020.3L695.4 1018.1L696.5 1016.5L697.6 1014.6L698.7 1015.2L699.8 1018.2L700.9 1020.8L702 1023.7L703.1 1028L704.2 1033.2L705.3 1038.5L706.4 1044.8L707.5 1050.5L708.6 1056L709.7 1061.6L710.8 1067.6L711.9 1072.9L713 1075.6L714.1 1080.4L715.2 1085.6L716.3 1089.8L717.4 1094.8L718.5 1098.4L719.6 1100.7L720.7 1103.8L721.8 1107.1L722.9 1109.7L724 1113.2L725.1 1115.3L726.2 1116.8L727.3 1118.6L728.4 1119.2L729.5 1120.6L730.6 1122.6L731.7 1123.6L732.8 1124.6L733.9 1125.2L735 1125.4L736.1 1125.8L737.2 1125.8L738.3 1125.7L739.4 1125.6L740.5 1125.1L741.6 1123.4L742.7 1122.4L743.8 1122L744.9 1120.4L746 1117.8L747.1 1115.5L748.2 1113.5L749.3 1110.3L750.4 1106.6L751.5 1102.4L752.6 1096.9L753.7 1091.5L754.8 1086.4L755.9 1079.8L757 1072.4L758.1 1064.6L759.2 1056L760.3 1047.2L761.4 1038.6L762.5 1029.4L763.6 1019.7L764.7 1010.9L765.8 1002.7L766.9 995.4L768 989.5L769.1 984.9L770.2 981.9L771.3 980.7L772.4 982.1L773.5 984.6L774.6 987L775.7 992.9L776.8 1001.2L777.9 1009.5L779 1017.5L780.1 1027L781.2 1037.5L782.3 1047.2L783.4 1057L784.5 1066.1L785.6 1074.6L786.7 1082.6L787.8 1090.6L788.9 1097.4L790 1103.3L791.1 1109L792.2 1112.4L793.3 1117L794.4 1122L795.5 1125.7L796.6 1130.4L797.7 1133.3L798.8 1135.9L799.9 1138.2L801 1139.5L802.1 1141.3L803.2 1142L804.3 1143.4L805.4 1146.8L806.5 1147.9L807.6 1146.6L808.7 1147.5L809.8 1149.7L810.9 1150.4L812 1150.9L813.1 1151.5L814.2 1152.2L815.3 1152.7L816.4 1152.3L817.5 1152.7L818.6 1153.5L819.7 1153.8L820.8 1155L821.9 1155.2L823 1154.6L824.1 1154.9L825.2 1154.6L826.3 1154.8L827.4 1155.7L828.5 1155.9L829.6 1156.1L830.7 1156.3L831.8 1156.3L832.9 1156.4L834 1156.2L835.1 1156.3L836.2 1157.1L837.3 1157.2L838.4 1156.9L839.5 1157L840.6 1156.5L841.7 1156.6L842.8 1157.5L843.9 1157.5L845 1157.5L846.1 1157.5L847.2 1157.7L848.3 1157.7L849.4 1156.8L850.5 1156.8L851.6 1157.4L852.7 1157.4L853.8 1158.2L854.9 1158.2L856 1158.5L857.1 1158.6L858.2 1158.3L859.3 1158.3L860.4 1158.2L861.5 1158.3L862.6 1158.6L863.7 1158.7L864.8 1158.8L865.9 1158.9L867 1159.3L868.1 1159.4L869.2 1158.7L870.3 1158.7L871.4 1158.2L872.5 1158.2L873.6 1158.8L874.7 1158.8L875.8 1157.5L876.9 1157.5L878 1158.7L879.1 1158.7L880.2 1158.4L881.3 1158.5L882.4 1158.7L883.5 1158.7L884.6 1159L885.7 1159.1L886.8 1158.8L887.9 1158.9L889 1158.1L890.1 1158.1L891.2 1158.7L892.3 1158.7L893.4 1158.5L894.5 1158.5L895.6 1158.9L896.7 1159L897.8 1159.2L898.9 1159.2L900 1158.5L901.1 1158.5L902.2 1159.5L903.3 1159.5L904.4 1159.8L905.5 1159.8L906.6 1159L907.7 1159L908.8 1159.5L909.9 1159.5L911 1158.3L912.1 1158.3L913.2 1158.9L914.3 1158.9L915.4 1159.7L916.5 1159.7L917.6 1158.2L918.7 1158.3L919.8 1159L920.9 1159L922 1158.8L923.1 1158.8L924.2 1159.9L925.3 1159.9L926.4 1159.9L927.5 1159.9L928.6 1158.9L929.7 1159L930.8 1159.4L931.9 1159.4L933 1157.9L934.1 1157.9L935.2 1159.8L936.3 1159.8L937.4 1159.5L938.5 1159.5L939.6 1160L940.7 1160L941.8 1157.9L942.9 1157.9L944 1159.4L945.1 1159.4L946.2 1159L947.3 1158.9L948.4 1157.6L949.5 1157.6L950.6 1158.6L951.7 1158.5L952.8 1158.7L953.9 1158.6L955 1159L956.1 1158.9L957.2 1158.4L958.3 1158.2L959.4 1157.6L960.5 1157.4L961.6 1157.7L962.7 1157.5L963.8 1156.9L964.9 1156.6L966 1156L967.1 1155.6L968.2 1155.1L969.3 1154.7L970.4 1154.9L971.5 1154.5L972.6 1154.1L973.7 1153.7L974.8 1154.2L975.9 1153.7L977 1152.1L978.1 1151.6L979.2 1152.4L980.3 1152L981.4 1151L982.5 1150.7L983.6 1150.8L984.7 1150.6L985.8 1149.3L986.9 1149.1L988 1149.1L989.1 1149.1L990.2 1149.4L991.3 1149.5L992.4 1150.3L993.5 1150.5L994.6 1150.4L995.7 1150.7L996.8 1151.4L997.9 1151.7L999 1151.9L1000.1 1152.3L1001.2 1153.1L1002.3 1153.5L1003.4 1153.5L1004.5 1154L1005.6 1154L1006.7 1154.4L1007.8 1155.4L1008.9 1155.8L1010 1156L1011.1 1156.4L1012.2 1157.6L1013.3 1158L1014.4 1157.2L1015.5 1157.5L1016.6 1157.9L1017.7 1158.2L1018.8 1158.2L1019.9 1158.4L1021 1159.3L1022.1 1159.5L1023.2 1159.5L1024.3 1159.6L1025.4 1159.6L1026.5 1159.7L1027.6 1158.8L1028.7 1158.8L1029.8 1158.8L1030.9 1158.8L1032 1159.9L1033.1 1159.9L1034.2 1160.2L1035.3 1160.2L1036.4 1160.7L1037.5 1160.7L1038.6 1158.9L1039.7 1159L1040.8 1159.9L1041.9 1159.9L1043 1159.1L1044.1 1159.1L1045.2 1159.5L1046.3 1159.5L1047.4 1159.9L1048.5 1160L1049.6 1160.6L1050.7 1160.6L1051.8 1159.8L1052.9 1159.8L1054 1159.7L1055.1 1159.7L1056.2 1160L1057.3 1160L1058.4 1160.9L1059.5 1160.9L1060.6 1161.5L1061.7 1161.5L1062.8 1159.3L1063.9 1159.4L1065 1160.1L1066.1 1160.1L1067.2 1160L1068.3 1160L1069.4 1160.9L1070.5 1160.9L1071.6 1160.5L1072.7 1160.5L1073.8 1161.1L1074.9 1161.1L1076 1159.7L1077.1 1159.7L1078.2 1160.3L1079.3 1160.3L1080.4 1160.1L1081.5 1160.1L1082.6 1159.7L1083.7 1159.7L1084.8 1160.2L1085.9 1160.2L1087 1159.7L1088.1 1159.7L1089.2 1161.5L1090.3 1161.5L1091.4 1160.6L1092.5 1160.6L1093.6 1159.8L1094.7 1159.8L1095.8 1160L1096.9 1160.1L1098 1161.3L1099.1 1161.3L1100.2 1160.1L1101.3 1160.1L1102.4 1160.8L1103.5 1160.8L1104.6 1160.7L1105.7 1160.7L1106.8 1161L1107.9 1161L1109 1160.8L1110.1 1160.8L1111.2 1160.3L1112.3 1160.3L1113.4 1160.1L1114.5 1160.1L1115.6 1159.5L1116.7 1159.5L1117.8 1160.4L1118.9 1160.4L1120 1160.6L1121.1 1160.6L1122.2 1160.3L1123.3 1160.3L1124.4 1160.4L1125.5 1160.4L1126.6 1159.8L1127.7 1159.8L1128.8 1161.7L1129.9 1161.7L1131 1160.2L1132.1 1160.2L1133.2 1160L1134.3 1160L1135.4 1160.2L1136.5 1160.2L1137.6 1160.4L1138.7 1160.4L1139.8 1160.9L1140.9 1161L1142 1159.2L1143.1 1159.2L1144.2 1160.8L1145.3 1160.8L1146.4 1160.2L1147.5 1160.2L1148.6 1160.5L1149.7 1160.5L1150.8 1161.1L1151.9 1161.1L1153 1161L1154.1 1161L1155.2 1160.2L1156.3 1160.2L1157.4 1160.5L1158.5 1160.5L1159.6 1161.6L1160.7 1161.6L1161.8 1161.3L1162.9 1161.3L1164 1161.1L1165.1 1161.1L1166.2 1160.6L1167.3 1160.6L1168.4 1161.1L1169.5 1161.1L1170.6 1160.8L1171.7 1160.8L1172.8 1160.3L1173.9 1160.3L1175 1160.1L1176.1 1160.1L1177.2 1160.9L1178.3 1160.9L1179.4 1160.8L1180.5 1160.8L1181.6 1161.3L1182.7 1161.3L1183.8 1160.4L1184.9 1160.4L1186 1161.4L1187.1 1161.4L1188.2 1160.4L1189.3 1160.4L1190.4 1161.3L1191.5 1161.3L1192.6 1160.9L1193.7 1160.9L1194.8 1160.3L1195.9 1160.3L1197 1160.1L1198.1 1160.1L1199.2 1160.6L1200.3 1160.6L1201.4 1160.5L1202.5 1160.5L1203.6 1161.1L1204.7 1161.1L1205.8 1160.2L1206.9 1160.2L1208 1159.8L1209.1 1159.8L1210.2 1160.6L1211.3 1160.6L1212.4 1161.7L1213.5 1161.7L1214.6 1161.5L1215.7 1161.5L1216.8 1160.3L1217.9 1160.2L1219 1160.4L1220.1 1160.4L1221.2 1160.7L1222.3 1160.7L1223.4 1160.2L1224.5 1160.2L1225.6 1160.4L1226.7 1160.4L1227.8 1160.4L1228.9 1160.4L1230 1159.9L1231.1 1159.9L1232.2 1160.2L1233.3 1160.1L1234.4 1160.2L1235.5 1160.2L1236.6 1160.6L1237.7 1160.6L1238.8 1159.8L1239.9 1159.8L1241 1160.4L1242.1 1160.4L1243.2 1159.8L1244.3 1159.8L1245.4 1159.9L1246.5 1159.9L1247.6 1159.7L1248.7 1159.6L1249.8 1162.4L1250.9 1162.4L1252 1160.9L1253.1 1160.8L1254.2 1160.9L1255.3 1160.8L1256.4 1160.5L1257.5 1160.5L1258.6 1159.8L1259.7 1159.8L1260.8 1159.9L1261.9 1159.9L1263 1159.9L1264.1 1159.9L1265.2 1159.9L1266.3 1159.9L1267.4 1159.9L1268.5 1159.8L1269.6 1160.3L1270.7 1160.2L1271.8 1157.6L1272.9 1157.5L1274 1158.8L1275.1 1158.7L1276.2 1159.2L1277.3 1159.1L1278.4 1158.4L1279.5 1158.3L1280.6 1158.3L1281.7 1158.1L1282.8 1158.9L1283.9 1158.7L1285 1157.8L1286.1 1157.6L1287.2 1158.3L1288.3 1158.1L1289.4 1156.8L1290.5 1156.6L1291.6 1156.5L1292.7 1156.2L1293.8 1155.2L1294.9 1154.8L1296 1153.9L1297.1 1153.6L1298.2 1154L1299.3 1153.6L1300.4 1153.3L1301.5 1152.8L1302.6 1152.1L1303.7 1151.5L1304.8 1150.3L1305.9 1149.6L1307 1150L1308.1 1149.2L1309.2 1148L1310.3 1147.1L1311.4 1146.2L1312.5 1145.1L1313.6 1143.6L1314.7 1142.5L1315.8 1142.6L1316.9 1141.3L1318 1139.9L1319.1 1138.5L1320.2 1136.4L1321.3 1134.9L1322.4 1133.1L1323.5 1131.5L1324.6 1130L1325.7 1128.3L1326.8 1127.4L1327.9 1125.8L1329 1124.7L1330.1 1123.1L1331.2 1120L1332.3 1118.5L1333.4 1116.9L1334.5 1115.6L1335.6 1113.8L1336.7 1112.8L1337.8 1114.6L1338.9 1114L1340 1111.5L1341.1 1111.4L1342.2 1112.5L1343.3 1112.8L1344.4 1113.1L1345.5 1113.8L1346.6 1115.1L1347.7 1116.2L1348.8 1116.2L1349.9 1117.5L1351 1118.5L1352.1 1120L1353.2 1122.6L1354.3 1124.3L1355.4 1126.1L1356.5 1127.8L1357.6 1129.9L1358.7 1131.5L1359.8 1131.6L1360.9 1133.2L1362 1135.4L1363.1 1136.9L1364.2 1138.4L1365.3 1139.8L1366.4 1140.4L1367.5 1141.7L1368.6 1143.5L1369.7 1144.6L1370.8 1146.1L1371.9 1147.1L1373 1147.6L1374.1 1148.4L1375.2 1148.4L1376.3 1149.2L1377.4 1150.9L1378.5 1151.5L1379.6 1152.4L1380.7 1153L1381.8 1153.3L1382.9 1153.8L1384 1154.4L1385.1 1154.8L1386.2 1153.8L1387.3 1154.2L1388.4 1155.7L1389.5 1156L1390.6 1156.4L1391.7 1156.7L1392.8 1156.4L1393.9 1156.6L1395 1157L1396.1 1157.2L1397.2 1157L1398.3 1157.2L1399.4 1158.5L1400.5 1158.6L1401.6 1157.9L1402.7 1158L1403.8 1157.8L1404.9 1157.9L1406 1158.7L1407.1 1158.8L1408.2 1158.8L1409.3 1158.9L1410.4 1159.3L1411.5 1159.3L1412.6 1158.6L1413.7 1158.6L1414.8 1158.8L1415.9 1158.8L1417 1159.5L1418.1 1159.5L1419.2 1160.6L1420.3 1160.6L1421.4 1159.7L1422.5 1159.7L1423.6 1158.7L1424.7 1158.8L1425.8 1159.6L1426.9 1159.6L1428 1159.1L1429.1 1159.1L1430.2 1158.6L1431.3 1158.6L1432.4 1159.2L1433.5 1159.2L1434.6 1159.3L1435.7 1159.3L1436.8 1159.8L1437.9 1159.8L1439 1160.3L1440.1 1160.3L1441.2 1160.2L1442.3 1160.2L1443.4 1160L1444.5 1160L1445.6 1159.3L1446.7 1159.3L1447.8 1159.6L1448.9 1159.6L1450 1159.4L1451.1 1159.4L1452.2 1160.2L1453.3 1160.1L1454.4 1159L1455.5 1158.9L1456.6 1159L1457.7 1158.9L1458.8 1160L1459.9 1160L1461 1159.4L1462.1 1159.4L1463.2 1158.8L1464.3 1158.7L1465.4 1159L1466.5 1158.9L1467.6 1158.9L1468.7 1158.8L1469.8 1158.8L1470.9 1158.7L1472 1159L1473.1 1158.9L1474.2 1158.6L1475.3 1158.5L1476.4 1158.1L1477.5 1158L1478.6 1157.7L1479.7 1157.6L1480.8 1156.8L1481.9 1156.7L1483 1157.3L1484.1 1157.2L1485.2 1158L1486.3 1157.8L1487.4 1157.2L1488.5 1157L1489.6 1156.4L1490.7 1156.2L1491.8 1156.2L1492.9 1156.1L1494 1155.5L1495.1 1155.3L1496.2 1155.7L1497.3 1155.5L1498.4 1156.2L1499.5 1155.9L1500.6 1155.5L1501.7 1155.2L1502.8 1154.5L1503.9 1154.2L1505 1153.6L1506.1 1153.2L1507.2 1152.2L1508.3 1151.7L1509.4 1150.7L1510.5 1150.2L1511.6 1150.3L1512.7 1149.7L1513.8 1148.8L1514.9 1148.1L1516 1148L1517.1 1147.3L1518.2 1146L1519.3 1145.1L1520.4 1143.7L1521.5 1142.7L1522.6 1142.2L1523.7 1141L1524.8 1141.1L1525.9 1139.8L1527 1136.3L1528.1 1134.8L1529.2 1134.4L1530.3 1132.8L1531.4 1130.8L1532.5 1129.1L1533.6 1127L1534.7 1125.2L1535.8 1123L1536.9 1121.3L1538 1120L1539.1 1118.3L1540.2 1116.9L1541.3 1115.5L1542.4 1114.6L1543.5 1113.6L1544.6 1112.9L1545.7 1112.4L1546.8 1112L1547.9 1112.2L1549 1112.1L1550.1 1112.8L1551.2 1114.3L1552.3 1115.5L1553.4 1116.4L1554.5 1117.9L1555.6 1119.3L1556.7 1121L1557.8 1123.8L1558.9 1125.6L1560 1126.6L1561.1 1128.3L1562.2 1129.8L1563.3 1131.4L1564.4 1133.8L1565.5 1135.3L1566.6 1135.7L1567.7 1137.1L1568.8 1139.4L1569.9 1140.7L1571 1142.1L1572.1 1143.3L1573.2 1143.8L1574.3 1144.8L1575.4 1146.1L1576.5 1146.9L1577.6 1148.8L1578.7 1149.5L1579.8 1149.8L1580.9 1150.5L1582 1150.8L1583.1 1151.4L1584.2 1151.8L1585.3 1152.3L1586.4 1152.1L1587.5 1152.5L1588.6 1153.1L1589.7 1153.5L1590.8 1153.8L1591.9 1154.1L1593 1154.6L1594.1 1154.9L1595.2 1155.2L1596.3 1155.5L1597.4 1155.2L1598.5 1155.5L1599.6 1157L1600.7 1157.2L1601.8 1155.9L1602.9 1156.1L1604 1157.1L1605.1 1157.2L1606.2 1157.8L1607.3 1157.9L1608.4 1157.5L1609.5 1157.6L1610.6 1157.4L1611.7 1157.5L1612.8 1158L1613.9 1158.1L1615 1159.2L1616.1 1159.3L1617.2 1158.7L1618.3 1158.8L1619.4 1158.4L1620.5 1158.5L1621.6 1159L1622.7 1159.1L1623.8 1158.8L1624.9 1158.8L1626 1158L1627.1 1158L1628.2 1159.3L1629.3 1159.3L1630.4 1159.8L1631.5 1159.9L1632.6 1160L1633.7 1160L1634.8 1159.4L1635.9 1159.5L1637 1158.8L1638.1 1158.8L1639.2 1160.3L1640.3 1160.3L1641.4 1159.6L1642.5 1159.6L1643.6 1160.2L1644.7 1160.2L1645.8 1160.4L1646.9 1160.4L1648 1160L1649.1 1160.1L1650.2 1159.9L1651.3 1159.9L1652.4 1159.6L1653.5 1159.6L1654.6 1159.7L1655.7 1159.7L1656.8 1160L1657.9 1160L1659 1159.7L1660.1 1159.7L1661.2 1160.1L1662.3 1160.1L1663.4 1158.8L1664.5 1158.8L1665.6 1159.3L1666.7 1159.2L1667.8 1159.7L1668.9 1159.7L1670 1159.2L1671.1 1159.2L1672.2 1159.2L1673.3 1159.1L1674.4 1158.6L1675.5 1158.5L1676.6 1159.4L1677.7 1159.2L1678.8 1159.6L1679.9 1159.4L1681 1157.8L1682.1 1157.6L1683.2 1158.5L1684.3 1158.3L1685.4 1156.6L1686.5 1156.3L1687.6 1156.9L1688.7 1156.6L1689.8 1155.2L1690.9 1154.8L1692 1155.9L1693.1 1155.5L1694.2 1154.9L1695.3 1154.5L1696.4 1154.2L1697.5 1153.9L1698.6 1154.1L1699.7 1153.7L1700.8 1153L1701.9 1152.6L1703 1152L1704.1 1151.6L1705.2 1150.9L1706.3 1150.6L1707.4 1150.8L1708.5 1150.5L1709.6 1149.9L1710.7 1149.7L1711.8 1149.8L1712.9 1149.6L1714 1150.6L1715.1 1150.6L1716.2 1150.3L1717.3 1150.3L1718.4 1150.1L1719.5 1150.2L1720.6 1150.6L1721.7 1150.8L1722.8 1149.9L1723.9 1150.1L1725 1151.3L1726.1 1151.6L1727.2 1150.9L1728.3 1151.2L1729.4 1152.1L1730.5 1152.5L1731.6 1153.4L1732.7 1153.8L1733.8 1154.1L1734.9 1154.5L1736 1155L1737.1 1155.3L1738.2 1155.3L1739.3 1155.6L1740.4 1155.9L1741.5 1156.2L1742.6 1156.4L1743.7 1156.7L1744.8 1157.7L1745.9 1157.9L1747 1158.1L1748.1 1158.3L1749.2 1156.9L1750.3 1157.1L1751.4 1158.1L1752.5 1158.2L1753.6 1159L1754.7 1159.1L1755.8 1158.3L1756.9 1158.4L1758 1158.7L1759.1 1158.8L1760.2 1158.3L1761.3 1158.4L1762.4 1158.1L1763.5 1158.1L1764.6 1158.8L1765.7 1158.8L1766.8 1158.5L1767.9 1158.4L1769 1158.5L1770.1 1158.5L1771.2 1157.7L1772.3 1157.7L1773.4 1157.8L1774.5 1157.7L1775.6 1158.2L1776.7 1158.1L1777.8 1157.9L1778.9 1157.8L1780 1158.3L1781.1 1158.2L1782.2 1157.2L1783.3 1157.1L1784.4 1157.9L1785.5 1157.8L1786.6 1157.6L1787.7 1157.5L1788.8 1157.1L1789.9 1156.9L1791 1157.1L1792.1 1156.9L1793.2 1156.4L1794.3 1156.2L1795.4 1155.9L1796.5 1155.8L1797.6 1155.6L1798.7 1155.4L1799.8 1154.5L1800.9 1154.3L1802 1154.7L1803.1 1154.4L1804.2 1154.6L1805.3 1154.3L1806.4 1152.7L1807.5 1152.4L1808.6 1153.3L1809.7 1152.9L1810.8 1151.8L1811.9 1151.4L1813 1151.2L1814.1 1150.7L1815.2 1150.5L1816.3 1150L1817.4 1149.5L1818.5 1149L1819.6 1149L1820.7 1148.3L1821.8 1146.8L1822.9 1146.1L1824 1146.4L1825.1 1145.6L1826.2 1143.8L1827.3 1143L1828.4 1142.3L1829.5 1141.3L1830.6 1140.3L1831.7 1139.2L1832.8 1137.3L1833.9 1136.1L1835 1134.6L1836.1 1133.3L1837.2 1132.6L1838.3 1131.2L1839.4 1130.1L1840.5 1128.7L1841.6 1127.4L1842.7 1125.9L1843.8 1123.9L1844.9 1122.5L1846 1122.4L1847.1 1121.2L1848.2 1119.2L1849.3 1118.2L1850.4 1117.2L1851.5 1116.6L1852.6 1117.2L1853.7 1116.9L1854.8 1116.9L1855.9 1117.1L1857 1116.2L1858.1 1116.6L1859.2 1118.2L1860.3 1118.9L1861.4 1118.5L1862.5 1119.3L1863.6 1120.9L1864.7 1121.7L1865.8 1123.8L1866.9 1124.6L1868 1124.7L1869.1 1125.4L1870.2 1125.6L1871.3 1126.1L1872.4 1126.4L1873.5 1126.7L1874.6 1126L1875.7 1126L1876.8 1126.6L1877.9 1126.4L1879 1126.1L1880.1 1125.7L1881.2 1124.4L1882.3 1123.9L1883.4 1123.9L1884.5 1123.2L1885.6 1122.7L1886.7 1121.9L1887.8 1121L1888.9 1120.3L1890 1119.7L1891.1 1119.1L1892.2 1118.2L1893.3 1117.8L1894.4 1117.1L1895.5 1117L1896.6 1117.8L1897.7 1118.1L1898.8 1117.5L1899.9 1118.3L1901 1119.8L1902.1 1120.9L1903.2 1123.1L1904.3 1124.4L1905.4 1126.2L1906.5 1127.7L1907.6 1128.5L1908.7 1130.1L1909.8 1130.2L1910.9 1131.8L1912 1135.4L1913.1 1137L1914.2 1138L1915.3 1139.5L1916.4 1140.5L1917.5 1141.8L1918.6 1143.6L1919.7 1144.9L1920.8 1145.9L1921.9 1147L1923 1147L1924.1 1148L1925.2 1148.8L1926.3 1149.7L1927.4 1151.7L1928.5 1152.4L1929.6 1151.3L1930.7 1151.9L1931.8 1154L1932.9 1154.5L1934 1154.9L1935.1 1155.3L1936.2 1156.1L1937.3 1156.4L1938.4 1157.2L1939.5 1157.5L1940.6 1157.6L1941.7 1157.8L1942.8 1158.2L1943.9 1158.4L1945 1158.2L1946.1 1158.4L1947.2 1158.4L1948.3 1158.6L1949.4 1159.1L1950.5 1159.2L1951.6 1158.8L1952.7 1158.9L1953.8 1158.6L1954.9 1158.7L1956 1159.3L1957.1 1159.4L1958.2 1158.6L1959.3 1158.7L1960.4 1159.4L1961.5 1159.5L1962.6 1161L1963.7 1161.1L1964.8 1160.4L1965.9 1160.4L1967 1160.1L1968.1 1160.2L1969.2 1160L1970.3 1160.1" fill="none" stroke="#ff0000" stroke-width="6" stroke-linejoin="round"/><g filter="url(#bl)"><polygon points="1138.6,850.8 1131.5,849.3 1140.3,825.1" fill="#cf92d6"/><polygon points="1126.3,849.3 1119.2,850.8 1117.5,825.1" fill="#7e5288"/><polygon points="1134.0,849.6 1126.8,849.3 1131.5,830.0" fill="#7e5288"/><polygon points="1113.6,853.4 1107.9,857.9 1099.3,841.1" fill="#7e5288"/><polygon points="1106.8,859.0 1102.7,864.9 1083.8,847.4" fill="#7e5288"/><polygon points="1150.3,858.2 1144.7,853.7 1160.4,840.0" fill="#eeb0f2"/><polygon points="1157.7,871.7 1155.2,865.0 1177.4,860.3" fill="#eeb0f2"/><polygon points="1100.2,871.2 1099.2,878.4 1074.4,871.2" fill="#7e5288"/><polygon points="1157.6,886.6 1158.6,879.4 1182.4,886.4" fill="#cf92d6"/><polygon points="1099.8,885.1 1102.2,891.9 1081.6,895.2" fill="#eeb0f2"/><polygon points="1150.3,899.5 1154.6,893.8 1170.4,910.2" fill="#7e5288"/><polygon points="1106.1,898.0 1111.4,902.9 1094.8,915.5" fill="#eeb0f2"/><polygon points="1117.8,906.5 1124.7,908.3 1114.7,932.0" fill="#cf92d6"/><polygon points="1123.3,908.1 1130.4,908.6 1125.6,925.8" fill="#7e5288"/><polygon points="1130.0,908.6 1137.1,907.5 1137.3,932.2" fill="#cf92d6"/><polygon points="1141.5,905.8 1147.6,902.0 1155.4,921.3" fill="#eeb0f2"/><polygon points="1158.6,879.9 1158.0,872.7 1173.7,875.0" fill="#eeb0f2"/><polygon points="1099.2,877.9 1099.8,885.1 1081.1,883.1" fill="#eeb0f2"/><circle cx="1128.9" cy="878.9" r="32.5" fill="url(#sg)"/><ellipse transform="translate(1120.3 870.3) rotate(-135)" rx="4.4" ry="3.2" fill="#4f5fa2" opacity="0.9"/><ellipse transform="translate(1141.8 857.4) rotate(-59)" rx="4.4" ry="3.2" fill="#4f5fa2" opacity="0.9"/><ellipse transform="translate(1104.5 881.8) rotate(173)" rx="4.8" ry="3.6" fill="#4f5fa2" opacity="0.9"/><ellipse transform="translate(1132.5 888.2) rotate(69)" rx="3.4" ry="2.5" fill="#4f5fa2" opacity="0.9"/><ellipse transform="translate(1116.0 900.5) rotate(121)" rx="4.8" ry="3.6" fill="#4f5fa2" opacity="0.9"/><ellipse transform="translate(1154.8 873.2) rotate(-12)" rx="4.4" ry="3.2" fill="#4f5fa2" opacity="0.9"/><ellipse transform="translate(1109.5 866.0) rotate(-146)" rx="3.7" ry="2.7" fill="#4f5fa2" opacity="0.9"/><ellipse transform="translate(1136.8 871.7) rotate(-42)" rx="3.2" ry="2.4" fill="#4f5fa2" opacity="0.9"/><ellipse transform="translate(1131.9 850.9) rotate(-84)" rx="4.0" ry="3.0" fill="#4f5fa2" opacity="0.9"/><ellipse transform="translate(1148.9 896.9) rotate(42)" rx="3.4" ry="2.5" fill="#4f5fa2" opacity="0.9"/></g><g filter="url(#bl)"><polygon points="1126.1,969.7 1118.9,969.7 1122.5,944.7" fill="#7e5288"/><polygon points="1141.6,976.0 1135.4,972.3 1151.9,951.8" fill="#7e5288"/><polygon points="1110.1,972.1 1103.9,975.7 1094.0,951.3" fill="#eeb0f2"/><polygon points="1103.6,975.9 1098.4,980.9 1094.0,971.2" fill="#7e5288"/><polygon points="1091.5,997.1 1091.5,1004.3 1065.5,1000.7" fill="#eeb0f2"/><polygon points="1153.5,1004.3 1153.5,997.1 1181.5,1000.7" fill="#cf92d6"/><polygon points="1153.0,994.0 1150.6,987.2 1163.2,986.7" fill="#7e5288"/><polygon points="1092.0,1007.4 1094.4,1014.2 1082.8,1014.4" fill="#7e5288"/><polygon points="1150.6,1014.2 1153.0,1007.4 1162.2,1014.4" fill="#eeb0f2"/><polygon points="1103.9,1025.7 1110.1,1029.3 1094.0,1050.1" fill="#7e5288"/><polygon points="1118.9,1031.7 1126.1,1031.7 1122.5,1051.7" fill="#7e5288"/><polygon points="1134.9,1029.3 1141.1,1025.7 1151.0,1050.1" fill="#eeb0f2"/><polygon points="1148.6,983.5 1143.9,978.0 1153.1,975.0" fill="#eeb0f2"/><circle cx="1122.5" cy="1000.7" r="34.0" fill="url(#sg)"/><ellipse transform="translate(1103.5 981.7) rotate(-135)" rx="5.3" ry="3.9" fill="#4f5fa2" opacity="0.9"/><ellipse transform="translate(1141.5 981.7) rotate(-45)" rx="5.3" ry="3.9" fill="#4f5fa2" opacity="0.9"/><ellipse transform="translate(1097.5 1008.7) rotate(162)" rx="5.1" ry="3.7" fill="#4f5fa2" opacity="0.9"/><ellipse transform="translate(1148.5 1008.7) rotate(17)" rx="5.1" ry="3.7" fill="#4f5fa2" opacity="0.9"/><ellipse transform="translate(1122.5 1014.7) rotate(90)" rx="4.1" ry="3.1" fill="#4f5fa2" opacity="0.9"/></g><g filter="url(#bl)"><polygon points="1126.3,1085.0 1119.1,1085.0 1122.7,1067.2" fill="#7e5288"/><polygon points="1095.6,1125.7 1099.2,1131.9 1082.9,1137.2" fill="#7e5288"/><polygon points="1140.8,1137.4 1145.9,1132.3 1155.2,1146.7" fill="#7e5288"/><circle cx="1122.7" cy="1114.2" r="32.2" fill="url(#sg)"/></g><line x1="319.3" y1="1305.0" x2="319.3" y2="1374" stroke="#000" stroke-width="4.6"/><line x1="697.8" y1="1204.0" x2="697.8" y2="1374" stroke="#000" stroke-width="4.6"/><line x1="768.5" y1="1212.0" x2="768.5" y2="1374" stroke="#000" stroke-width="4.6"/><line x1="968.2" y1="1345.0" x2="968.2" y2="1374" stroke="#000" stroke-width="4.6"/><line x1="989.9" y1="1345.0" x2="989.9" y2="1374" stroke="#000" stroke-width="4.6"/><line x1="1088.6" y1="1345.0" x2="1088.6" y2="1374" stroke="#000" stroke-width="4.6"/><line x1="1339.5" y1="1254.0" x2="1339.5" y2="1374" stroke="#000" stroke-width="4.6"/><line x1="1543.7" y1="1271.6" x2="1543.7" y2="1374" stroke="#000" stroke-width="4.6"/><line x1="1640.6" y1="1358.7" x2="1640.6" y2="1374" stroke="#000" stroke-width="4.6"/><line x1="1712.1" y1="1337.2" x2="1712.1" y2="1374" stroke="#000" stroke-width="4.6"/><line x1="1849.3" y1="1305.0" x2="1849.3" y2="1374" stroke="#000" stroke-width="4.6"/><line x1="1893.0" y1="1312.7" x2="1893.0" y2="1374" stroke="#000" stroke-width="4.6"/><rect x="216" y="40.3" width="1757" height="1333.7" fill="none" stroke="#000" stroke-width="7.6" stroke-opacity="0.42"/><rect x="216" y="40.3" width="1757" height="1333.7" fill="none" stroke="#000" stroke-width="2.8"/><line x1="216" y1="465" x2="1973" y2="465" stroke="#000" stroke-width="6.5" stroke-opacity="0.45"/><line x1="216" y1="465" x2="1973" y2="465" stroke="#000" stroke-width="2.8"/><line x1="216.0" y1="1374" x2="216.0" y2="1402" stroke="#000" stroke-width="4.4"/><line x1="435.5" y1="1374" x2="435.5" y2="1389" stroke="#000" stroke-width="4.4"/><line x1="655.0" y1="1374" x2="655.0" y2="1402" stroke="#000" stroke-width="4.4"/><line x1="874.5" y1="1374" x2="874.5" y2="1389" stroke="#000" stroke-width="4.4"/><line x1="1094.0" y1="1374" x2="1094.0" y2="1402" stroke="#000" stroke-width="4.4"/><line x1="1313.5" y1="1374" x2="1313.5" y2="1389" stroke="#000" stroke-width="4.4"/><line x1="1533.0" y1="1374" x2="1533.0" y2="1402" stroke="#000" stroke-width="4.4"/><line x1="1752.5" y1="1374" x2="1752.5" y2="1389" stroke="#000" stroke-width="4.4"/><line x1="1972.0" y1="1374" x2="1972.0" y2="1402" stroke="#000" stroke-width="4.4"/><text x="216.0" y="1480" font-size="81" text-anchor="middle">20</text><text x="655.0" y="1480" font-size="81" text-anchor="middle">30</text><text x="1094.0" y="1480" font-size="81" text-anchor="middle">40</text><text x="1533.0" y="1480" font-size="81" text-anchor="middle">50</text><text x="1972.0" y="1480" font-size="81" text-anchor="middle">60</text><text y="1617" font-size="81" x="901.4">2</text><text transform="translate(941.2 1618) scale(1.13 0.98)" font-size="81" style="font-weight:normal;stroke:#000;stroke-width:1.1px">θ</text><text y="1617" font-size="81" x="999.4 1027.2 1073.8 1109.9 1151 1186.5 1221.5 1256.8">(degree)</text><text transform="translate(90.6 0) rotate(-90)" y="0" font-size="81" x="-1001.2 -966.4 -918.7 -890.7 -851.4 -805.9 -771.6 -748.7 -720.7 -680.2 -658.8 -629.3 -588.4 -565.1 -518 -500.3">Intensity (a.u.)</text><text y="141.5" font-size="92" x="399 432.7 476">(a)</text><text y="598" font-size="92" x="399 434.5 479.5">(b)</text><text y="123.3" font-size="73" x="1159.3 1187 1224.8 1248.9 1302.5 1356">In(HO)</text><text y="149.4" font-size="44" x="1378">3</text><text y="123.3" font-size="73" x="1417.1 1439.4 1475.1 1526.5 1566.8 1616.6 1654.9 1679.1 1713.3 1747.6 1772.1 1805.2 1840.5 1873.4 1908.6">(JCPDS:16-0161)</text><text y="1234.5" font-size="73" x="1243.8 1271.6">In</text><text y="1261.7" font-size="44" x="1309.9">2</text><text y="1234.5" font-size="73" x="1329.9">O</text><text y="1261.7" font-size="44" x="1383.6">3</text><text y="1234.5" font-size="73" x="1423.1 1444.6 1480.3 1531.7 1571.9 1621.7 1660 1684.4 1717.8 1753.1 1777.6 1808.4 1843.3 1881.6 1913.6">(JCPDS:22-0336)</text><text y="886.5" font-size="73" x="377.6 411.3 445.5 469.5 496.6">48-In</text><text y="914.5" font-size="44" x="534.6">2</text><text y="886.5" font-size="73" x="554.6">O</text><text y="914.5" font-size="44" x="608.9">3</text><text y="1007.5" font-size="73" x="369.5 404.7 436.8 460.9 489.2">24-In</text><text y="1034.5" font-size="44" x="527.2">2</text><text y="1007.5" font-size="73" x="547.3">O</text><text y="1034.5" font-size="44" x="600.9">3</text><text y="1122.5" font-size="73" x="364.1 400.7 432.9 454.9 483.3">18-In</text><text y="1149.5" font-size="44" x="521.9">2</text><text y="1122.5" font-size="73" x="543.3">O</text><text y="1149.5" font-size="44" x="598.3">3</text><text transform="translate(342 249.2) rotate(-90)" font-size="74.5">(200)</text><text transform="translate(758.5 286.4) rotate(-90)" font-size="74.5">(220)</text><text transform="translate(1084 372.2) rotate(-90)" font-size="74.5">(220)</text><text transform="translate(1363 389.2) rotate(-90)" font-size="74.5">(400)</text><text transform="translate(1616 310) rotate(-90)" font-size="74.5">(420)</text><text transform="translate(1846.5 352.6) rotate(-90)" font-size="74.5">(422)</text><text transform="translate(346.3 891.4) rotate(-90)" font-size="74.5">(012)</text><text transform="translate(713.5 727.6) rotate(-90)" font-size="74.5">(104)</text><text transform="translate(794 653.6) rotate(-90)" font-size="74.5">(110)</text><text transform="translate(1369.5 868.5) rotate(-90)" font-size="74.5">(024)</text><text transform="translate(1573 868.5) rotate(-90)" font-size="74.5">(116)</text><text transform="translate(1864.5 871.4) rotate(-90)" font-size="74.5">(214)</text><text transform="translate(1942 871.4) rotate(-90)" font-size="74.5">(300)</text></svg></body></html>
